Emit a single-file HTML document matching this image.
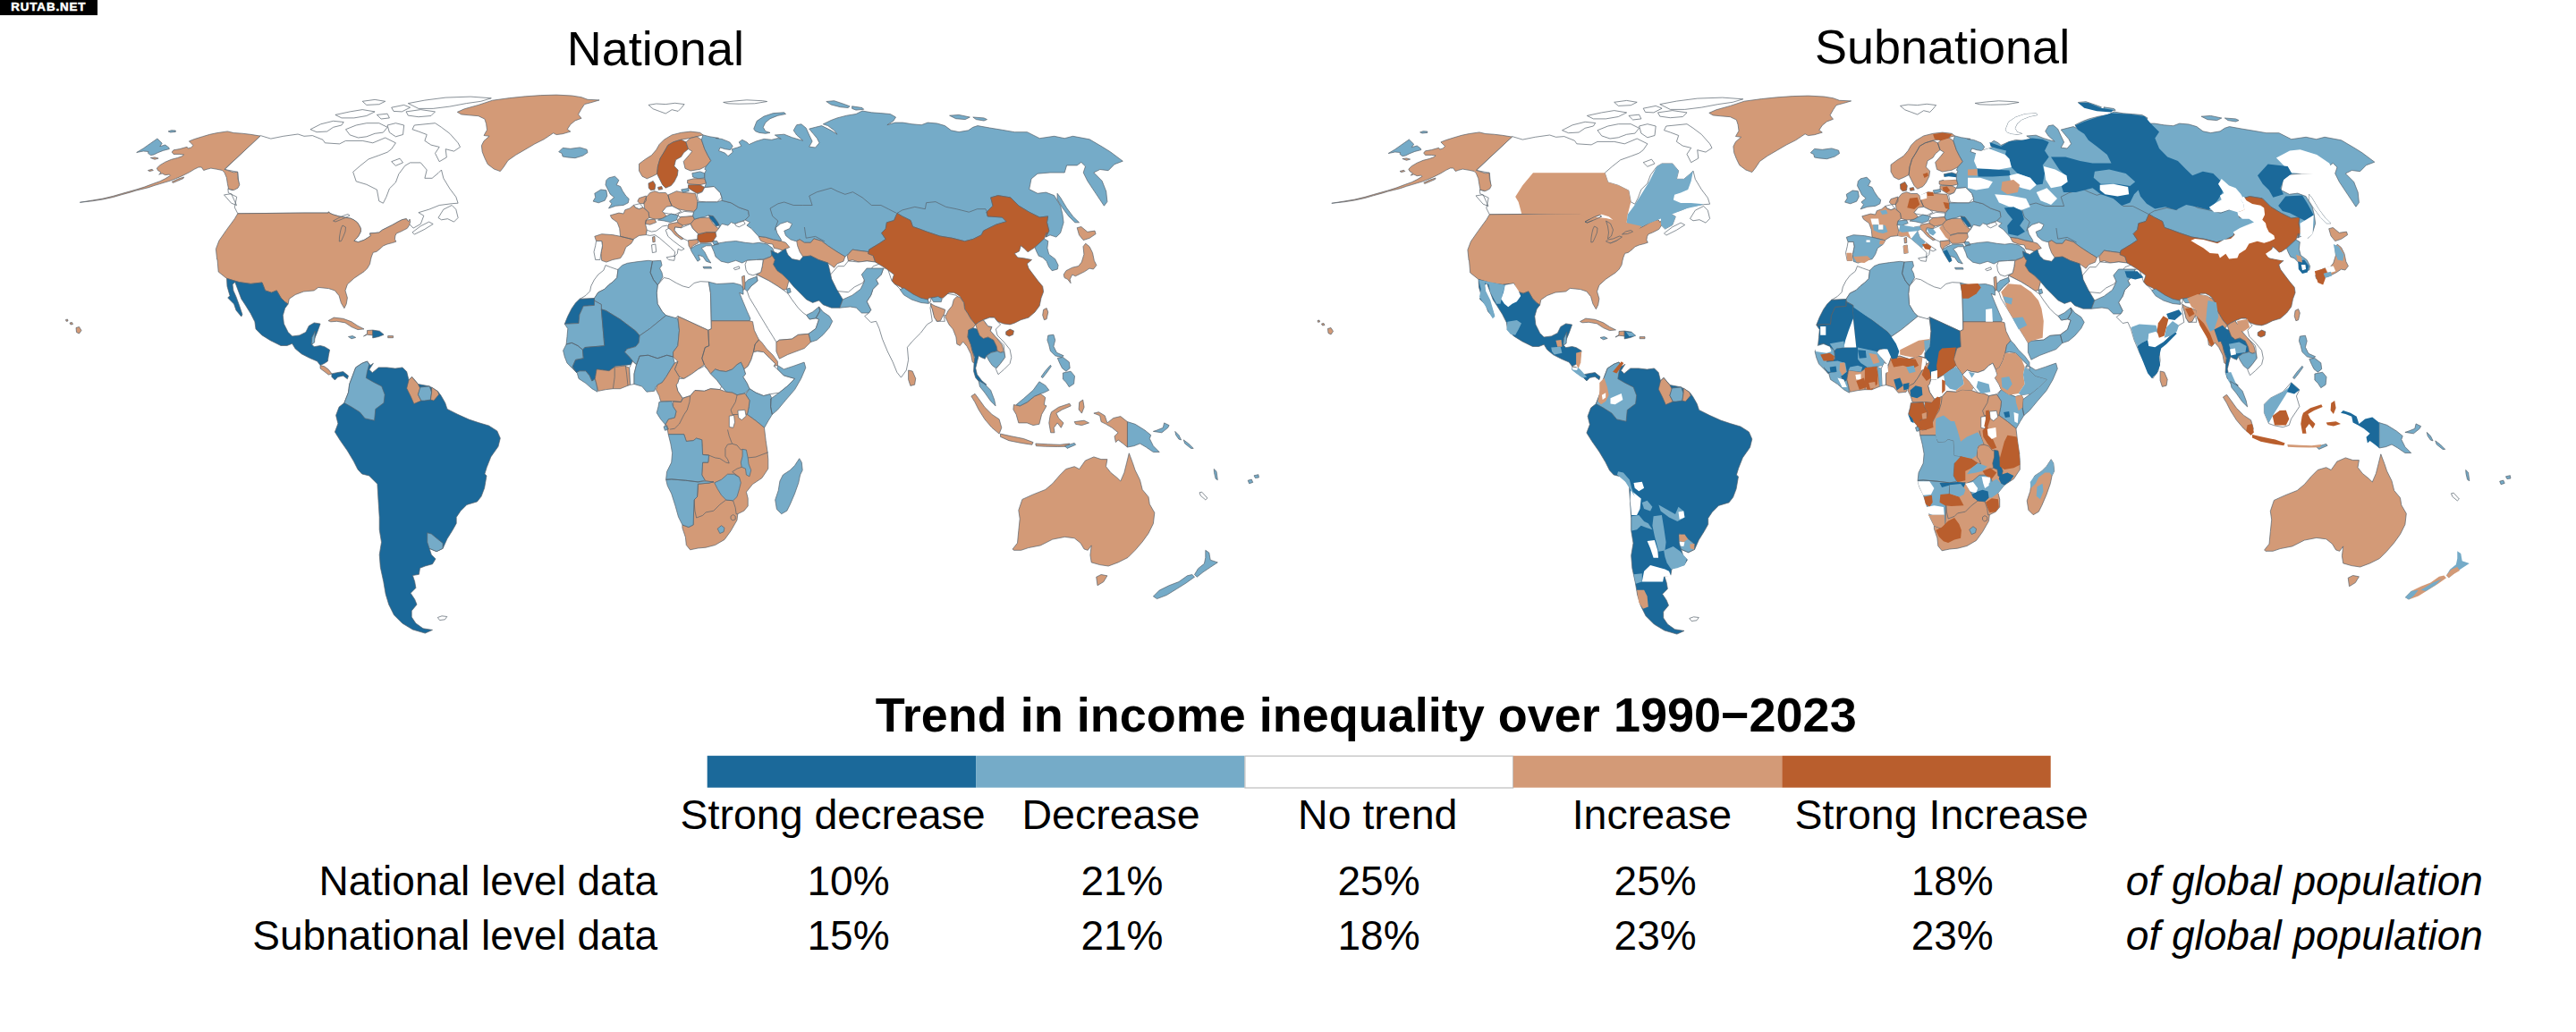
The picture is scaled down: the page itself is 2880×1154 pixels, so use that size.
<!DOCTYPE html>
<html><head><meta charset="utf-8"><title>Trend in income inequality over 1990-2023</title>
<style>
html,body{margin:0;padding:0;background:#fff;}
body{width:2880px;height:1154px;overflow:hidden;position:relative;font-family:"Liberation Sans",Arial,sans-serif;color:#000;}
.tag{position:absolute;left:0;top:0;width:109px;height:17px;background:#000;color:#fff;font-weight:bold;font-size:13.4px;line-height:16.3px;letter-spacing:0.85px;text-indent:12.3px;white-space:nowrap;-webkit-text-stroke:0.5px #fff;}
svg{position:absolute;left:0;top:0;}
.t{position:absolute;white-space:nowrap;line-height:1;}
.h{font-size:54px;}
.b{font-size:54px;font-weight:bold;}
.l{font-size:46px;}
.g{font-size:46.5px;}
.i{font-style:italic;}
</style></head><body>
<svg width="2880" height="1154" viewBox="0 0 2880 1154">
<g stroke="#56616b" stroke-width="0.7" stroke-linejoin="round">
<path fill="#75abc8" d="M152.7 170.5L160.2 166.0L168.4 160.2L175.9 155.0L181.2 160.2L178.8 163.7L184.7 162.0L188.7 164.9L189.3 166.6L182.3 168.4L176.5 170.7L171.9 173.0L168.4 173.6L165.5 171.3L166.0 169.5L160.2 169.0ZM188.1 146.9L191.6 145.7L196.3 146.0L196.3 147.4L190.5 148.0Z"/>
<path fill="#ffffff" d="M291.2 151.6L302.8 155.1L316.8 152.3L333.1 150.0L340.0 152.3L349.3 151.6L361.0 156.3L363.3 159.8L379.6 160.9L386.5 157.4L405.2 157.4L416.8 159.8L430.7 154.0L442.4 159.8L437.7 166.7L433.1 170.2L423.8 173.7L412.1 177.9L402.8 185.3L394.7 192.3L398.2 202.8L409.8 206.3L421.4 212.1L423.8 224.9L428.4 227.2L431.9 220.2L435.4 210.9L442.4 204.0L445.8 194.7L452.8 185.3L458.6 181.9L470.3 181.9L477.2 190.0L474.9 199.3L483.1 199.3L490.0 193.5L493.5 190.0L495.8 199.3L502.8 210.9L509.8 220.2L512.1 227.2L505.2 227.7L491.2 229.5L479.6 234.2L467.9 237.7L473.8 241.2L470.3 250.5L462.1 255.1L457.5 250.5L454.4 244.7L449.8 245.6L445.1 247.9L438.6 251.6L433.0 254.4L427.4 257.2L423.7 260.0L419.0 260.5L413.5 260.9L414.4 263.7L411.6 265.6L407.0 268.4L400.5 270.7L395.8 269.3L399.5 265.6L401.4 262.8L403.3 259.0L403.3 255.3L401.4 251.6L399.5 248.8L395.8 246.0L392.0 244.2L386.5 243.3L379.0 241.9L372.6 240.0L368.5 238.3L367.5 236.8L367.0 238.1L340.0 238.1L265.8 238.8L262.3 231.9L264.7 220.2L255.3 215.6L254.9 210.9L260.0 212.8L267.0 206.3L265.8 192.3L251.2 189.5ZM347.0 144.7L358.6 138.8L372.6 135.3L384.2 136.5L381.9 140.0L372.6 142.3L365.6 147.0L354.0 147.7ZM386.5 144.7L398.2 140.0L409.8 137.7L423.8 137.7L433.1 142.3L428.4 148.1L419.1 149.3L409.8 152.8L400.5 154.0L391.2 150.9ZM374.9 128.4L391.2 124.9L405.2 122.6L419.1 124.9L409.8 129.5L395.8 131.9L381.9 131.9ZM433.1 140.0L442.4 137.7L451.7 140.0L450.5 150.5L442.4 152.8L435.4 148.1ZM454.0 124.9L470.3 122.6L486.5 124.9L481.9 129.5L467.9 130.7L456.3 129.1ZM456.3 115.6L474.9 112.1L498.2 109.1L526.1 108.1L549.3 109.8L537.7 113.3L521.4 115.6L502.8 119.1L484.2 121.4L467.9 121.4ZM437.7 120.2L451.7 117.4L458.6 120.2L449.3 124.9L440.0 124.4ZM463.3 140.0L486.5 137.7L493.5 142.3L502.8 149.3L512.1 159.8L514.5 164.4L507.5 169.1L498.2 166.7L499.3 176.0L491.2 180.7L486.5 171.4L491.2 164.4L481.9 162.1L474.9 157.4L477.2 150.5L467.9 147.0L461.0 144.7ZM437.7 180.7L447.0 177.2L450.5 181.9L442.4 185.3ZM490.0 243.5L495.8 234.2L505.2 229.5L509.8 234.2L512.1 243.5L507.5 248.1L500.5 244.7L493.5 245.8ZM461.0 259.8L470.3 252.8L479.6 248.1L484.2 250.5L474.9 256.3L463.3 262.1ZM250.5 217.9L258.6 216.7L264.5 229.5L258.6 227.2ZM405.2 113.3L419.1 111.4L430.7 113.3L423.8 116.7L409.8 117.4ZM421.4 128.4L433.1 127.2L435.4 131.9L426.1 133.0Z"/>
<path fill="#d39a77" d="M291.0 152.1L250.9 189.3L254.4 190.5L261.4 192.8L265.5 192.2L266.0 199.8L267.8 206.7L266.0 210.2L261.4 212.6L255.6 211.4L254.4 205.6L253.3 198.6L250.9 192.8L248.6 190.5L242.8 189.3L235.8 188.1L231.2 189.3L227.7 190.5L225.3 187.0L221.9 187.0L217.2 189.3L211.4 192.8L205.6 195.7L202.1 197.4L196.3 199.8L190.5 202.1L184.7 203.8L178.8 205.6L173.0 207.3L166.0 209.7L159.1 211.4L152.1 213.1L146.3 214.9L135.8 217.8L126.5 220.5L114.9 223.0L103.3 224.8L89.3 226.3L103.3 224.0L114.9 222.1L126.5 219.3L135.8 216.6L152.1 212.0L161.4 209.1L170.7 205.6L178.8 202.7L184.7 199.8L190.5 196.3L189.3 195.1L184.7 195.7L181.2 194.0L177.7 195.1L180.0 192.8L176.5 190.5L175.3 188.1L178.8 184.7L184.7 181.2L191.6 178.3L198.6 176.5L203.3 174.8L205.6 173.0L200.9 172.4L194.0 172.4L192.2 170.1L194.0 167.8L200.9 166.6L209.1 164.3L210.2 166.0L213.7 164.9L216.0 162.6L213.7 160.2L211.4 157.9L217.2 155.6L226.5 152.7L234.7 150.3L242.8 148.6L254.4 146.9L261.4 148.6L270.7 149.2L280.0 150.3ZM168.4 176.5L173.0 175.9L177.1 177.1L173.0 178.3ZM165.5 190.5L170.1 189.3L171.3 190.5L167.2 191.6ZM192.2 203.3L198.6 200.3L205.6 198.0L205.0 199.5L198.6 202.3L193.4 204.4ZM265.8 238.8L340.0 238.1L367.0 238.1L367.5 236.8L368.5 238.3L372.6 240.0L379.0 241.9L386.5 243.3L392.0 244.2L395.8 246.0L399.5 248.8L401.4 251.6L403.3 255.3L403.3 259.0L401.4 262.8L399.5 265.6L395.8 269.3L400.5 270.7L407.0 268.4L411.6 265.6L414.4 263.7L413.5 260.9L419.0 260.5L423.7 260.0L427.4 257.2L433.0 254.4L438.6 251.6L445.1 247.9L449.8 245.6L454.4 244.7L456.5 247.5L458.1 245.1L458.6 247.9L457.7 251.6L455.3 255.3L451.6 257.2L447.9 259.1L443.3 260.9L441.9 263.7L441.4 267.4L442.8 270.2L438.6 271.6L433.0 273.0L428.4 274.9L425.6 277.7L420.9 281.4L417.2 282.3L415.3 287.0L414.4 290.7L413.5 295.3L410.7 300.0L407.0 303.7L401.4 307.4L395.8 311.2L388.4 317.9L386.0 324.9L388.4 333.0L387.2 340.0L384.9 344.7L381.4 338.8L379.1 330.7L374.4 324.9L367.4 322.6L355.8 321.4L351.2 324.9L339.5 326.0L330.2 329.5L323.3 334.2L322.1 340.0L318.6 337.7L314.0 333.0L309.3 324.9L303.5 327.2L296.5 324.9L293.0 316.0L280.2 317.4L267.4 315.6L253.5 311.4L244.2 304.0L243.0 290.0L242.6 290.0L241.4 278.4L244.9 269.1L253.0 257.4L262.3 244.7Z"/>
<path fill="none" d="M383.0 252.0L386.5 254.0L386.0 259.0L384.0 264.0L381.5 269.5L379.3 270.0L379.5 265.0L380.5 259.0L381.5 255.0ZM372.5 247.0L377.0 244.5L383.0 241.5L389.0 239.5L391.0 241.0L386.0 243.5L380.0 246.0L375.0 248.0Z"/>
<path fill="#d39a77" d="M85.0 366.5L88.5 365.5L91.0 369.5L88.5 373.0L85.5 371.5ZM78.0 361.0L80.5 360.5L81.5 362.5L79.0 363.0ZM73.5 357.5L75.5 357.0L76.0 359.0L74.0 359.3Z"/>
<path fill="#1b699a" d="M253.5 311.4L267.4 315.6L280.2 317.4L293.0 316.0L296.5 324.9L303.5 327.2L309.3 324.9L314.0 333.0L318.6 337.7L322.1 340.0L318.6 344.7L316.3 352.8L317.4 362.1L322.1 371.4L326.7 376.0L334.9 374.9L341.9 371.4L345.3 364.4L351.2 360.9L358.1 362.1L354.7 371.4L352.3 377.2L348.8 385.3L351.2 387.7L358.1 386.5L362.8 387.7L368.6 391.2L367.4 397.0L366.3 404.0L362.8 406.3L358.1 408.6L354.7 404.0L346.5 400.5L337.2 395.8L330.2 390.0L326.7 384.2L320.9 386.5L314.0 386.5L302.3 380.7L293.0 374.9L286.0 367.9L284.9 359.8L280.2 350.5L274.4 341.2L269.8 334.2L266.3 324.9L262.8 315.6L260.0 317.9L260.9 324.9L264.0 331.9L267.4 341.2L270.9 351.6L269.8 354.0L264.0 347.0L261.6 340.0L258.1 336.5L254.7 333.0L257.0 330.7L254.0 320.2Z"/>
<path fill="#75abc8" d="M348.8 377.2L352.3 370.2L351.6 383.0L348.1 385.3Z"/>
<path fill="#d39a77" d="M358.1 408.6L362.8 409.8L367.4 413.3L370.9 417.9L367.4 419.1L362.8 415.6L358.1 412.1Z"/>
<path fill="#1b699a" d="M370.9 417.9L376.7 416.7L383.7 415.6L389.5 420.2L388.4 423.7L383.7 420.2L377.9 421.4L374.4 424.9L370.9 421.4Z"/>
<path fill="#d39a77" d="M367.0 358.6L373.3 355.1L383.7 356.3L393.0 359.8L400.0 364.4L407.0 367.9L400.0 368.6L393.0 365.6L386.0 360.9L376.7 359.3L369.8 359.8ZM410.5 369.5L416.7 369.1L416.7 374.9L410.5 374.2L406.5 376.0L410.5 373.3Z"/>
<path fill="#1b699a" d="M416.7 369.1L424.4 370.2L429.1 374.2L423.3 376.5L416.7 377.9Z"/>
<path fill="#75abc8" d="M389.5 376.5L394.2 375.6L397.7 377.4L393.0 378.8Z"/>
<path fill="#d39a77" d="M433.7 375.6L439.5 375.6L439.5 377.7L433.7 377.7Z"/>
<path fill="#1b699a" d="M410.5 404.0L414.0 408.6L417.4 406.3L412.8 413.3L416.3 416.7L423.3 410.9L432.6 410.9L441.9 412.1L450.0 410.9L454.7 415.6L457.0 424.9L460.5 421.4L467.4 429.5L480.2 431.9L489.5 437.7L493.0 442.3L497.7 450.5L500.0 457.4L511.6 463.3L524.4 469.1L534.9 472.6L546.5 476.0L555.8 481.9L559.3 490.0L557.0 499.3L548.8 510.9L544.2 522.6L541.9 530.0L544.0 531.9L541.6 545.8L538.1 555.1L533.5 560.9L521.9 564.4L514.9 571.4L510.2 578.4L510.2 585.3L505.6 593.5L499.8 602.8L495.1 613.3L488.1 616.7L480.0 613.3L482.3 620.2L487.0 624.9L483.5 630.7L475.3 633.0L469.5 635.3L468.4 642.3L461.4 643.5L463.7 650.5L464.9 657.4L459.1 663.3L463.7 670.2L466.0 676.0L460.2 683.0L460.2 690.0L464.9 697.0L473.0 702.8L483.5 704.4L475.3 708.1L461.4 704.0L449.8 697.0L440.5 687.7L434.7 676.0L431.2 664.4L428.8 650.5L425.3 634.2L424.2 620.2L426.5 606.3L424.2 592.3L424.2 578.4L423.0 559.8L421.9 541.2L412.6 531.9L404.7 530.0L400.0 524.9L395.3 515.6L388.4 504.0L380.2 492.3L374.4 483.0L377.9 473.7L375.6 464.4L379.1 455.1L384.9 450.5L389.5 438.8L390.7 429.5L394.2 420.2L397.7 410.9L404.7 406.3Z"/>
<path fill="#75abc8" d="M410.5 404.0L404.7 406.3L397.7 410.9L394.2 420.2L390.7 429.5L389.5 438.8L384.9 450.5L393.0 455.1L402.3 460.9L408.1 467.9L418.6 470.2L419.8 457.4L429.1 450.5L430.2 441.2L426.7 431.9L417.4 427.2L409.3 422.6L410.5 415.6L412.8 407.4Z"/>
<path fill="#d39a77" d="M457.0 424.9L460.5 421.4L467.4 429.5L469.8 434.2L467.4 441.2L470.9 448.1L462.8 451.6L459.3 443.5L454.7 434.2Z"/>
<path fill="#75abc8" d="M469.8 433.0L480.2 431.9L482.6 438.8L481.4 447.0L474.4 448.1L470.9 448.1L467.4 441.2Z"/>
<path fill="#d39a77" d="M482.6 433.0L489.5 437.7L490.7 441.2L484.9 448.1L481.4 447.0L482.6 438.8Z"/>
<path fill="#75abc8" d="M477.7 595.8L482.3 597.0L489.3 602.8L495.1 607.4L495.1 613.3L488.1 616.7L480.0 613.3L477.7 606.3Z"/>
<path fill="#ffffff" d="M489.3 690.5L494.0 688.8L499.8 689.5L497.4 692.8L491.6 693.5Z"/>
<path fill="#d39a77" d="M511.3 125.3L519.2 121.8L534.9 117.4L550.6 112.2L569.8 109.6L587.2 107.8L604.7 106.6L622.1 106.1L639.5 107.0L650.0 108.7L657.0 111.3L670.1 111.9L662.2 114.3L653.5 116.6L650.0 121.8L646.5 127.9L650.0 132.3L643.0 134.9L637.8 139.2L634.3 144.5L637.8 147.1L629.1 149.7L622.1 150.6L618.6 148.8L608.1 155.8L597.7 161.0L587.2 167.2L576.7 173.3L568.0 179.4L562.8 187.2L559.3 191.6L552.3 189.0L545.3 183.7L541.9 176.7L539.2 169.8L538.4 162.8L541.0 157.6L547.1 152.3L541.0 151.5L544.5 145.3L543.6 138.4L541.9 133.1L534.9 129.7L524.4 128.8L515.7 127.9Z"/>
<path fill="#75abc8" d="M624.7 169.8L629.1 165.4L637.8 166.3L648.3 164.9L656.1 167.2L657.0 170.6L651.7 174.1L643.0 176.7L634.3 175.9L629.1 175.0L628.2 171.5ZM680.5 198.9L687.5 197.2L691.9 201.5L689.2 206.7L693.6 208.5L696.2 213.7L699.7 219.0L703.2 222.4L702.3 226.8L697.1 229.4L688.4 230.3L680.5 232.9L684.0 227.7L681.4 225.1L686.6 220.7L682.3 217.2L679.7 212.0L677.0 206.7L677.9 201.5ZM664.8 216.3L671.8 212.0L677.9 212.8L678.8 219.0L676.2 224.2L669.2 226.8L663.1 225.1L665.7 220.7Z"/>
<path fill="#ffffff" d="M725.0 117.4L733.7 116.0L744.2 116.6L754.7 115.3L765.1 116.6L761.6 120.9L758.1 124.4L751.2 122.7L744.2 127.0L737.2 124.4L730.2 121.8Z"/>
<path fill="#d39a77" d="M714.5 183.2L721.5 178.0L728.5 173.6L733.7 167.5L737.2 161.4L742.4 156.2L751.2 150.9L761.6 148.3L772.1 147.1L782.6 148.3L786.0 150.9L779.1 152.7L772.1 154.4L761.6 156.2L752.9 158.8L746.8 162.3L742.4 170.1L738.1 177.1L735.5 185.8L734.6 194.5L729.4 197.2L723.3 199.8L718.0 197.2L714.5 191.0Z"/>
<path fill="#b95e2d" d="M746.8 162.3L752.9 158.8L761.6 156.2L766.9 158.8L769.5 166.6L764.2 171.0L761.6 175.3L755.5 178.8L753.8 185.8L758.1 190.2L757.3 196.3L753.8 203.3L750.3 207.6L744.2 210.2L740.7 206.7L737.2 199.8L734.6 194.5L735.5 185.8L738.1 177.1L742.4 170.1Z"/>
<path fill="#d39a77" d="M772.1 154.4L779.1 152.7L784.3 156.2L787.8 166.6L791.3 173.6L794.8 179.7L789.5 185.8L782.6 189.3L772.1 191.0L766.0 188.4L764.2 180.6L770.3 173.6L773.8 169.2L769.5 166.6L766.9 158.8Z"/>
<path fill="#b95e2d" d="M725.0 205.0L730.2 202.4L732.8 206.7L732.0 212.0L727.6 212.8L725.3 210.2ZM735.5 209.4L739.8 208.5L740.7 211.6L736.3 212.3Z"/>
<path fill="#75abc8" d="M773.8 193.7L782.6 191.9L787.8 193.7L787.8 198.9L780.8 199.8L774.7 198.0Z"/>
<path fill="#d39a77" d="M768.6 201.5L775.6 199.8L787.8 199.8L789.5 205.0L782.6 206.7L772.1 205.9L768.6 205.0Z"/>
<path fill="#b95e2d" d="M769.5 206.7L782.6 206.7L787.8 209.4L785.2 214.6L779.1 216.3L772.1 212.0L769.5 210.2Z"/>
<path fill="#ffffff" d="M787.8 209.4L798.3 208.5L805.2 215.5L807.0 220.7L801.7 225.9L789.5 225.9L780.8 225.1L779.1 217.2L785.2 214.6Z"/>
<path fill="#d39a77" d="M746.8 218.1L756.4 213.7L765.1 215.5L777.3 216.3L779.9 225.9L779.1 232.9L775.6 236.4L766.9 235.5L758.1 233.8L751.2 230.3L748.5 224.2ZM726.7 215.5L732.0 213.7L737.2 215.5L744.2 215.5L746.8 218.1L748.5 224.2L751.2 230.3L744.2 232.9L740.7 236.4L745.1 241.6L740.7 244.2L732.0 245.1L725.9 243.4L725.0 237.3L720.6 232.9L719.8 226.8L722.4 220.7ZM714.5 221.6L722.4 219.0L722.4 224.2L719.8 227.7L715.4 227.7L712.8 225.1Z"/>
<path fill="#ffffff" d="M708.4 229.4L715.4 227.7L718.9 232.0L714.5 233.8L710.2 232.0ZM740.7 236.4L745.1 231.2L751.2 230.3L758.1 233.8L761.6 236.4L754.7 239.9L747.7 239.0L742.4 238.1ZM758.1 239.0L765.1 236.4L775.6 237.3L774.7 241.6L766.9 242.5L759.0 242.5Z"/>
<path fill="#75abc8" d="M740.7 244.2L745.1 241.6L750.3 239.0L758.1 240.8L756.4 246.0L749.4 248.6L742.4 246.9L735.5 246.0Z"/>
<path fill="#d39a77" d="M757.3 246.0L761.6 242.5L774.7 241.6L776.5 245.1L772.1 250.3L763.4 252.1L758.1 250.3ZM722.4 246.0L732.0 245.1L733.7 248.6L726.7 251.2L721.5 250.3ZM682.3 240.8L691.9 238.1L697.1 239.0L698.8 234.7L704.1 232.9L708.4 229.4L710.2 232.0L714.5 233.8L718.9 232.0L725.0 237.3L725.9 243.4L722.4 246.0L721.5 250.3L723.3 257.3L722.4 262.6L714.5 263.4L707.6 267.8L700.6 266.0L693.6 264.3L692.7 255.6L690.1 248.6L684.0 244.2ZM729.4 265.2L732.0 264.3L732.3 270.4L729.9 270.9ZM664.8 264.3L672.7 261.7L684.9 262.6L693.6 264.3L700.6 266.0L708.4 267.8L705.8 272.2L699.7 276.5L697.1 283.5L693.6 288.7L684.9 290.5L677.9 293.1L672.7 291.3L671.8 283.5L673.5 274.8L672.7 269.5L666.6 269.5Z"/>
<path fill="#ffffff" d="M666.6 269.5L672.7 269.5L673.5 274.8L671.8 283.5L670.9 290.5L665.7 290.5L664.0 281.7L665.7 274.8ZM723.3 257.3L728.5 259.1L733.7 258.2L740.7 253.0L745.9 252.1L748.5 254.7L744.2 257.3L746.8 264.3L752.9 269.5L759.9 274.8L765.1 278.3L761.6 280.0L758.1 278.3L757.3 283.5L753.8 287.0L754.7 281.7L749.4 276.5L743.3 271.3L737.2 266.0L732.0 262.6L726.7 263.4L722.4 262.6ZM745.1 287.8L754.7 286.1L753.8 291.3L747.7 290.5ZM728.5 273.9L732.8 273.0L733.7 281.7L729.4 282.6ZM754.7 253.8L761.6 254.7L772.1 250.3L774.7 255.6L780.8 261.7L779.9 267.8L772.1 268.7L769.5 269.5L764.2 266.9L758.1 262.6L753.8 257.3Z"/>
<path fill="#d39a77" d="M747.7 250.3L757.3 248.6L763.4 252.1L761.6 254.7L754.7 253.8L753.8 257.3L758.1 262.6L764.2 266.9L761.6 267.8L754.7 262.6L750.3 257.3L746.8 254.7ZM776.5 245.1L782.6 243.4L793.0 243.4L797.4 250.3L800.9 253.8L803.5 255.6L800.0 259.9L789.5 259.9L780.8 261.7L774.7 255.6L772.1 250.3Z"/>
<path fill="#1b699a" d="M792.2 240.8L797.4 241.6L802.6 248.6L804.4 252.1L800.9 253.0L797.4 248.6L793.9 244.2Z"/>
<path fill="#b95e2d" d="M779.9 262.6L789.5 259.9L800.0 259.9L800.9 264.3L798.3 267.8L797.4 270.4L789.5 271.3L782.6 271.3L779.9 267.8Z"/>
<path fill="#75abc8" d="M772.1 278.3L777.3 274.8L784.3 272.2L794.8 272.2L796.5 274.8L789.5 274.8L784.3 277.4L787.8 281.7L791.3 288.7L794.8 294.0L789.5 292.2L786.0 287.0L780.8 285.2L782.6 290.5L779.9 292.2L775.6 285.2L773.0 280.9ZM786.0 298.3L794.8 298.3L795.6 300.1L786.9 300.1Z"/>
<path fill="#d39a77" d="M769.5 268.7L779.9 267.8L780.8 271.6L774.7 274.8L772.1 278.3L770.0 274.8Z"/>
<path fill="#75abc8" d="M779.9 225.9L789.5 225.9L801.7 225.9L807.0 224.2L817.4 226.8L826.2 232.0L836.6 235.5L837.5 241.6L833.1 246.0L826.2 248.6L821.8 250.3L817.4 248.6L814.0 252.1L807.0 250.3L803.5 255.6L804.4 252.1L802.6 248.6L797.4 241.6L792.2 240.8L787.8 242.5L782.6 243.4L776.5 245.1L774.7 241.6L775.6 237.3L779.1 232.9Z"/>
<path fill="#ffffff" d="M821.8 250.3L826.2 248.6L831.4 247.2L833.1 250.3L826.2 253.8L822.7 252.4Z"/>
<path fill="#75abc8" d="M795.6 275.6L801.7 272.2L812.2 270.4L822.7 269.5L833.1 271.3L841.9 272.2L848.8 271.3L857.6 273.0L863.7 277.4L865.4 281.7L861.9 287.0L854.1 289.6L845.3 290.5L834.9 291.3L829.7 294.0L822.7 291.3L814.0 294.0L806.1 292.2L800.0 287.0L798.3 281.7ZM796.5 269.5L801.7 269.5L803.5 273.0L798.3 273.9Z"/>
<path fill="#ffffff" d="M820.1 300.1L826.2 297.8L827.0 300.1L821.8 301.8Z"/>
<path fill="#d39a77" d="M848.0 264.3L855.8 265.2L864.5 267.8L873.3 269.5L878.5 271.3L882.8 276.5L878.5 278.3L875.0 280.0L869.8 278.3L865.4 277.4L863.7 273.0L857.6 272.2L850.6 269.5Z"/>
<path fill="#75abc8" d="M786.0 150.9L784.3 156.2L787.8 166.6L791.3 173.6L794.8 179.7L789.5 185.8L787.8 189.3L789.5 190.2L787.8 193.7L787.8 198.9L789.5 205.0L787.8 209.4L798.3 208.5L805.2 215.5L807.0 220.7L807.0 224.2L817.4 226.8L826.2 232.0L836.6 235.5L837.5 241.6L833.1 246.0L838.4 248.6L834.9 252.1L840.1 255.6L848.0 264.3L855.8 265.2L864.5 267.8L873.3 269.5L873.3 267.8L868.9 260.8L867.2 254.7L872.4 250.3L880.2 247.7L885.5 250.3L882.8 255.6L876.7 258.2L878.5 263.4L883.7 267.8L889.0 269.5L890.7 269.5L894.2 267.8L899.4 271.3L906.4 271.3L909.9 266.9L918.6 269.5L925.6 274.8L936.0 281.7L944.8 287.0L944.9 287.2L948.4 283.7L953.0 279.1L960.0 280.2L969.3 281.4L976.3 283.7L970.5 283.7L971.6 279.1L983.3 272.1L990.2 267.4L985.6 260.5L990.2 255.8L991.4 248.8L999.5 246.5L1003.0 238.4L1008.8 241.9L1018.1 246.5L1020.5 253.5L1027.4 255.8L1036.7 259.3L1050.7 264.0L1064.7 266.3L1078.6 269.8L1087.9 267.4L1097.2 262.8L1099.5 258.1L1113.5 251.2L1125.1 247.7L1120.5 243.0L1104.2 241.9L1103.0 237.2L1110.0 230.2L1107.7 220.9L1115.8 218.6L1129.8 220.9L1139.1 230.2L1150.7 237.2L1162.3 243.0L1171.6 241.9L1170.5 248.8L1172.8 258.1L1169.3 265.1L1174.0 262.8L1180.9 265.1L1185.6 260.5L1189.1 248.8L1187.9 239.5L1185.6 230.2L1178.6 218.6L1169.3 215.1L1160.0 216.3L1150.7 211.6L1153.0 200.0L1160.0 194.2L1174.0 193.0L1190.2 193.0L1192.6 184.9L1204.2 184.9L1208.8 181.4L1213.5 186.0L1211.2 193.0L1215.8 202.3L1225.1 216.3L1234.4 230.2L1237.9 225.6L1236.7 214.0L1232.1 202.3L1222.8 193.0L1229.8 189.5L1239.1 190.7L1246.0 183.7L1255.3 180.2L1241.4 169.8L1232.1 164.0L1218.1 155.8L1199.5 152.3L1190.2 154.7L1178.6 152.3L1162.3 154.7L1148.4 147.7L1134.4 147.7L1120.5 145.3L1106.5 143.0L1093.0 140.6L1087.8 142.3L1082.6 145.8L1072.1 147.6L1063.4 145.8L1056.4 140.6L1047.7 138.0L1037.2 137.1L1030.2 139.7L1019.8 138.8L1009.3 137.1L1000.6 137.1L991.9 139.7L998.8 135.3L1001.5 131.0L995.3 127.5L984.9 126.6L974.4 125.8L964.0 124.0L957.0 127.5L946.5 129.2L936.0 131.9L929.1 134.5L920.3 138.8L925.6 140.6L932.6 145.8L936.0 150.2L929.1 145.8L922.1 142.3L918.6 140.6L911.6 142.3L904.7 144.1L909.0 149.3L913.4 154.5L916.0 159.8L911.6 165.0L904.7 164.1L908.1 158.0L904.7 151.0L901.2 143.2L895.9 138.8L890.7 139.7L887.2 145.8L890.7 151.0L897.7 157.2L894.2 156.3L885.5 153.7L876.7 150.2L866.3 151.0L873.3 155.4L869.8 154.5L862.8 156.3L854.1 155.4L845.3 158.0L837.5 161.5L834.9 158.9L829.7 156.3L826.2 158.9L828.8 163.3L824.4 165.0L818.3 166.7L819.2 170.2L814.0 174.6L810.5 171.1L803.5 168.5L805.2 165.0L810.5 166.7L816.6 167.6L819.2 163.3L815.7 158.9L807.0 155.4L800.0 154.5L803.5 154.4L793.0 152.7ZM842.7 144.1L846.2 135.3L854.1 130.1L864.5 126.6L876.7 125.8L878.5 127.5L869.8 129.2L861.0 132.7L855.8 137.1L853.2 142.3L855.8 146.7L861.0 148.4L855.8 149.3L848.8 148.4L844.5 146.7ZM923.8 113.5L932.6 112.7L943.0 116.2L950.0 118.8L948.3 120.5L939.5 119.7L929.1 117.0ZM952.6 118.8L964.0 120.5L965.7 122.3L957.0 123.1L952.6 121.4ZM1061.6 129.2L1072.1 128.4L1084.3 131.0L1079.1 133.6L1068.6 132.7ZM1087.8 131.0L1100.0 131.9L1103.5 133.6L1100.0 135.0L1091.3 133.6Z"/>
<path fill="#ffffff" d="M808.7 114.4L820.9 113.0L834.9 111.8L852.3 112.7L857.6 113.5L843.6 115.8L826.2 116.2L814.0 115.8Z"/>
<path fill="#75abc8" d="M1182.1 216.3L1185.6 220.9L1192.6 232.6L1199.5 241.9L1206.5 248.8L1201.9 248.8L1194.9 241.9L1187.9 232.6L1182.1 223.3ZM761.6 212.0L769.5 210.6L770.3 213.7L763.4 215.1Z"/>
<path fill="#d39a77" d="M890.7 269.5L894.2 267.8L899.4 271.3L906.4 271.3L909.9 266.9L918.6 269.5L925.6 274.8L936.0 281.7L944.8 287.0L943.0 292.2L936.0 294.8L932.6 299.2L925.6 294.0L915.1 290.5L906.4 286.1L897.7 287.0L894.2 281.7L891.6 274.8ZM947.2 286.0L953.0 279.1L960.0 280.2L969.3 281.4L976.3 283.7L976.3 286.0L978.6 293.0L969.3 291.9L960.0 293.0L953.0 290.7L948.4 291.9Z"/>
<path fill="#ffffff" d="M936.7 297.7L943.7 297.7L948.4 291.9L960.0 293.0L969.3 291.9L978.6 293.0L985.6 294.2L976.3 297.7L969.3 307.0L964.7 316.3L955.3 320.9L948.4 326.7L936.7 325.6L929.8 318.6L928.6 307.0Z"/>
<path fill="#1b699a" d="M861.9 280.0L865.4 281.7L869.8 283.5L875.0 280.0L878.5 278.3L879.4 281.7L881.1 285.2L885.5 289.6L894.2 291.3L897.7 287.0L906.4 286.1L915.1 290.5L925.6 294.0L927.3 300.9L929.5 311.6L935.3 323.3L942.3 334.9L938.8 344.2L929.5 344.2L920.2 340.7L915.6 336.0L908.6 338.4L901.6 334.9L894.7 327.9L887.7 320.9L881.9 314.0L874.9 307.0L868.9 302.7L864.5 295.7L866.3 290.5L862.8 285.2Z"/>
<path fill="#d39a77" d="M853.2 290.5L861.9 287.0L862.8 285.2L866.3 290.5L864.5 295.7L868.9 302.7L874.9 307.0L881.9 314.0L879.5 323.3L876.0 324.4L869.1 319.8L859.8 314.0L850.5 309.3L845.8 307.0L850.6 304.4L852.3 297.4Z"/>
<path fill="#ffffff" d="M834.9 291.3L845.3 290.5L853.2 290.5L852.3 297.4L850.6 304.4L841.9 307.9L836.6 306.2L834.0 301.8L833.1 295.7ZM835.3 325.6L840.0 319.8L847.0 314.0L845.8 307.0L859.8 314.0L869.1 319.8L876.0 324.4L880.7 327.9L885.3 334.9L892.3 344.2L898.1 350.0L901.6 352.3L905.1 357.0L912.1 355.8L915.6 357.0L912.1 367.4L904.0 373.3L892.3 374.4L885.3 379.1L871.4 380.2L867.9 382.6L864.4 376.7L858.6 367.4L851.6 355.8L844.7 344.2L837.7 332.6Z"/>
<path fill="#75abc8" d="M879.5 323.3L883.0 322.1L884.2 326.7L880.7 327.9ZM831.9 317.4L836.5 312.8L845.8 309.3L847.0 314.0L840.0 319.8L835.3 325.6L832.6 323.3Z"/>
<path fill="#d39a77" d="M829.5 309.3L832.3 308.1L833.0 317.4L832.6 323.3L830.7 324.4L830.0 316.3Z"/>
<path fill="#75abc8" d="M901.6 352.3L908.6 348.8L915.6 343.0L916.7 347.7L912.1 355.8L905.1 357.0ZM915.6 343.0L920.2 348.8L927.2 353.5L930.7 359.3L927.2 366.3L920.2 374.4L913.3 380.2L906.3 382.6L904.0 373.3L912.1 367.4L915.6 357.0L912.1 355.8L916.7 347.7Z"/>
<path fill="#d39a77" d="M867.9 382.6L871.4 380.2L885.3 379.1L892.3 374.4L904.0 373.3L906.3 382.6L899.3 389.5L890.0 393.0L880.7 396.5L871.4 401.2L867.9 393.0Z"/>
<path fill="#ffffff" d="M971.4 350.0L973.7 346.5L969.1 337.2L973.7 330.2L976.0 323.3L981.9 317.4L979.5 312.8L985.3 307.0L987.7 300.0L992.3 300.0L997.0 314.0L1006.3 323.3L1017.9 331.4L1031.9 336.0L1040.0 338.4L1041.2 332.6L1052.8 332.6L1057.4 327.9L1069.1 330.2L1072.6 333.7L1066.7 344.2L1059.8 353.5L1055.1 352.3L1056.3 359.3L1052.8 359.3L1047.0 359.3L1043.5 350.0L1041.2 339.5L1040.0 344.2L1042.3 359.3L1036.5 362.8L1029.5 372.1L1020.2 381.4L1014.4 388.4L1015.6 402.3L1013.3 414.0L1007.4 422.1L1002.8 416.3L998.1 404.7L992.3 393.0L986.5 379.1L983.0 367.4L979.5 359.3L973.7 360.5L966.7 353.5Z"/>
<path fill="#75abc8" d="M938.8 344.2L942.3 334.9L952.8 330.2L962.1 323.3L966.7 314.0L963.3 307.0L969.1 300.0L987.7 300.0L985.3 307.0L979.5 312.8L981.9 317.4L976.0 323.3L973.7 330.2L969.1 337.2L973.7 346.5L971.4 350.0L963.3 350.0L957.4 344.2L950.5 343.0Z"/>
<path fill="#d39a77" d="M1015.6 414.0L1020.2 415.1L1023.7 423.3L1022.6 430.2L1017.9 431.4L1015.6 424.4Z"/>
<path fill="#b95e2d" d="M970.5 283.7L971.6 279.1L983.3 272.1L990.2 267.4L985.6 260.5L990.2 255.8L991.4 248.8L999.5 246.5L1003.0 238.4L1008.8 241.9L1018.1 246.5L1020.5 253.5L1027.4 255.8L1036.7 259.3L1050.7 264.0L1064.7 266.3L1078.6 269.8L1087.9 267.4L1097.2 262.8L1099.5 258.1L1113.5 251.2L1125.1 247.7L1120.5 243.0L1104.2 241.9L1103.0 237.2L1110.0 230.2L1107.7 220.9L1115.8 218.6L1129.8 220.9L1139.1 230.2L1150.7 237.2L1162.3 243.0L1171.6 241.9L1170.5 248.8L1172.8 258.1L1169.3 265.1L1170.1 260.0L1167.4 267.0L1157.0 276.6L1149.1 281.8L1144.8 277.4L1141.3 274.8L1139.5 280.9L1134.3 283.5L1137.8 287.9L1144.8 288.8L1153.5 290.5L1148.3 294.9L1150.0 300.1L1155.2 307.1L1160.5 314.1L1165.7 320.2L1166.6 326.3L1164.0 333.3L1162.2 342.0L1157.0 349.0L1150.0 355.1L1141.3 357.7L1134.3 361.2L1129.1 362.9L1122.1 362.0L1115.1 359.4L1111.6 355.1L1106.4 355.1L1099.4 357.7L1094.2 360.3L1090.7 362.9L1085.5 356.8L1082.0 350.7L1078.5 345.5L1077.6 338.5L1073.3 331.5L1069.8 328.9L1066.3 327.2L1061.0 327.2L1054.1 333.3L1043.6 332.4L1038.4 333.3L1036.6 336.7L1029.7 335.0L1020.9 329.8L1014.0 326.3L1007.0 321.0L1000.0 317.6L997.2 314.0L999.5 307.0L990.2 300.0L978.6 293.0L976.3 286.0Z"/>
<path fill="#75abc8" d="M1006.1 323.7L1010.5 321.9L1020.9 328.9L1029.7 333.3L1037.5 335.0L1038.4 339.4L1029.7 338.5L1019.2 335.0L1010.5 329.8ZM1041.0 333.3L1048.8 331.5L1053.2 334.1L1052.3 337.6L1043.6 337.6Z"/>
<path fill="#d39a77" d="M1040.1 339.4L1045.3 342.0L1052.3 344.6L1056.7 346.3L1055.8 350.7L1053.2 355.1L1051.5 358.5L1048.0 359.4L1044.5 355.1L1042.7 347.2Z"/>
<path fill="#b95e2d" d="M1124.7 370.8L1129.1 368.1L1133.4 369.9L1132.6 374.2L1128.2 376.0L1124.7 374.2Z"/>
<path fill="#d39a77" d="M1166.6 346.3L1170.1 344.6L1171.8 349.0L1170.1 356.8L1167.4 357.7L1165.7 352.4Z"/>
<path fill="#75abc8" d="M1157.0 276.6L1167.4 267.0L1171.8 269.6L1170.9 277.4L1172.7 284.4L1179.7 289.7L1183.1 296.6L1182.3 301.0L1176.2 302.7L1172.7 298.4L1170.1 292.3L1165.7 287.9L1161.3 286.2L1158.7 280.9Z"/>
<path fill="#d39a77" d="M1189.2 307.1L1191.9 302.7L1198.8 299.2L1205.8 297.5L1209.3 293.1L1211.9 284.4L1211.0 275.7L1213.7 272.2L1218.0 275.7L1221.5 282.7L1223.3 291.4L1225.9 296.6L1222.4 301.0L1218.0 300.1L1212.8 303.6L1207.6 306.2L1202.3 308.8L1198.8 307.1L1196.2 312.3L1197.1 316.7L1193.6 312.3L1190.1 310.6ZM1204.2 254.7L1208.8 253.5L1215.8 259.3L1224.0 258.1L1225.1 261.6L1218.1 266.3L1211.2 268.6L1206.5 262.8ZM1056.7 354.2L1060.2 347.2L1064.5 342.0L1066.3 335.0L1069.8 331.5L1073.3 332.4L1077.6 338.5L1078.5 345.5L1082.0 350.7L1085.5 356.8L1090.7 362.9L1088.1 366.4L1082.8 369.0L1082.0 376.9L1085.5 385.6L1087.2 392.6L1089.0 399.5L1089.8 406.5L1087.2 404.8L1085.5 396.0L1081.1 387.3L1076.7 382.1L1073.3 386.5L1069.8 384.7L1068.9 376.9L1065.4 368.1L1061.0 362.9Z"/>
<path fill="#1b699a" d="M1082.8 369.0L1088.1 366.7L1092.4 368.1L1095.1 375.1L1099.4 378.6L1104.7 376.9L1110.8 380.3L1114.2 387.3L1115.1 392.6L1108.1 394.3L1102.9 397.8L1101.2 401.3L1096.8 399.5L1094.2 397.8L1092.4 404.8L1090.7 411.7L1092.4 418.7L1097.7 425.7L1102.9 430.1L1099.4 432.7L1095.1 427.4L1090.7 422.2L1088.6 415.2L1089.0 406.5L1089.8 399.5L1087.2 392.6L1085.5 385.6L1082.0 376.9Z"/>
<path fill="#d39a77" d="M1090.7 362.9L1094.2 360.3L1099.4 357.7L1104.7 364.7L1109.0 365.5L1107.3 369.9L1113.4 376.9L1120.3 385.6L1122.1 392.6L1118.6 394.3L1115.1 392.6L1114.2 387.3L1110.8 380.3L1104.7 376.9L1099.4 378.6L1095.1 375.1L1092.4 368.1Z"/>
<path fill="#75abc8" d="M1102.9 397.8L1108.1 394.3L1115.1 392.6L1118.6 394.3L1123.0 393.4L1123.8 399.5L1118.6 406.5L1113.4 411.7L1109.0 408.3L1105.5 403.0Z"/>
<path fill="#ffffff" d="M1106.4 355.1L1111.6 355.1L1115.1 359.4L1118.6 362.9L1113.4 368.1L1115.1 375.1L1122.1 382.1L1129.1 390.8L1130.8 399.5L1129.1 406.5L1122.1 413.5L1116.0 418.7L1113.4 412.6L1118.6 406.5L1123.8 399.5L1123.0 393.4L1122.1 385.6L1113.4 376.9L1107.3 369.9L1109.0 365.5L1104.7 364.7L1099.4 357.7Z"/>
<path fill="#75abc8" d="M1171.8 375.1L1177.9 374.2L1179.7 380.3L1177.9 387.3L1181.4 394.3L1189.2 397.8L1186.6 399.5L1179.7 397.8L1174.4 392.6L1172.7 385.6L1170.9 380.3ZM1182.3 400.4L1188.4 399.5L1195.3 404.8L1196.2 411.7L1191.9 415.2L1187.5 411.7L1184.9 406.5ZM1188.4 417.0L1197.1 415.2L1201.5 420.5L1200.6 429.2L1195.3 432.7L1191.9 427.4L1188.4 424.0ZM1164.0 421.3L1168.3 415.2L1174.4 408.3L1175.3 409.7L1170.1 417.0L1165.7 422.6Z"/>
<path fill="none" d="M861.0 233.0L869.8 227.8L876.7 226.0L887.2 229.5L897.7 229.5L908.1 229.5L904.7 219.1L913.4 214.7L929.1 210.3L936.0 213.8L944.8 217.3L953.5 214.7L964.0 220.8L974.4 229.5L984.9 229.5L993.6 233.9L1002.3 238.3M861.0 233.0L863.7 241.7L869.8 247.0L867.2 254.0L866.3 257.4M1003.0 238.4L1008.8 234.9L1022.8 231.4L1034.4 233.7L1035.6 226.7L1046.0 225.6L1057.7 231.4L1069.3 233.7L1083.3 237.2L1092.6 233.7L1101.9 233.7L1104.2 238.4M899.4 254.0L901.2 266.2L911.6 264.4L922.1 270.0"/>
<path fill="#ffffff" d="M647.9 334.4L649.1 333.9L654.9 330.4L659.6 325.7L660.8 319.9L664.3 313.0L668.8 307.0L674.8 302.3L677.0 296.6L682.8 298.8L689.8 301.3L691.0 301.3L689.8 310.5L685.2 315.2L680.5 318.7L675.8 323.4L668.8 326.9L664.3 333.9ZM735.3 318.7L742.3 310.5L748.0 311.7L756.2 316.5L763.2 319.9L770.2 321.7L776.1 316.5L783.1 314.7L792.3 315.2L794.4 327.4L795.3 367.6L791.8 369.3L757.8 353.6L754.3 356.2L744.7 352.7L740.3 348.4L735.1 339.7L734.2 327.4Z"/>
<path fill="#75abc8" d="M664.5 333.5L668.8 326.9L675.8 323.4L680.5 318.7L685.2 315.2L689.8 310.5L691.0 301.3L695.7 296.6L701.5 294.3L713.1 292.6L724.8 291.3L729.5 291.9L727.1 304.8L730.6 312.8L735.3 318.7L734.2 327.4L735.1 339.7L740.3 348.4L744.7 352.7L726.4 367.6L715.1 375.4L710.7 370.2L693.3 357.1L677.6 347.5L672.3 345.8L672.3 340.5L664.5 336.2ZM729.5 291.9L738.8 291.3L740.0 296.6L737.6 300.1L740.0 304.8L741.0 309.5L737.6 315.2L735.3 318.7L730.6 312.8L727.1 304.8Z"/>
<path fill="#1b699a" d="M647.9 334.4L664.5 333.5L664.5 341.4L652.3 342.3L647.9 351.9L647.0 361.5L631.3 362.3L634.8 353.6L639.2 344.9L643.5 338.8Z"/>
<path fill="#75abc8" d="M631.3 362.3L647.0 361.5L647.9 351.9L652.3 342.3L664.5 341.4L664.5 336.2L672.3 340.5L672.3 345.8L675.8 386.7L654.0 388.5L651.4 391.1L646.2 386.7L639.2 383.3L633.1 385.0L634.0 376.3L634.8 367.6ZM633.1 385.0L639.2 383.3L646.2 386.7L651.4 391.1L652.3 400.7L643.5 402.4L640.1 410.3L644.4 416.4L647.9 414.7L654.9 414.7L659.2 419.9L661.9 426.0L665.3 423.4L667.1 430.3L668.0 438.2L661.9 434.7L654.9 428.6L647.0 423.4L645.3 417.3L639.2 411.2L634.0 405.9L631.3 399.0L629.6 392.0Z"/>
<path fill="#1b699a" d="M672.3 345.8L677.6 347.5L693.3 357.1L710.7 370.2L715.1 375.4L714.2 383.3L710.7 387.6L701.1 390.2L698.5 393.7L703.7 399.0L707.2 403.3L705.5 407.7L698.5 408.5L688.0 409.4L681.0 414.7L667.1 412.9L665.3 423.4L661.9 426.0L659.2 419.9L654.9 414.7L647.9 414.7L644.4 416.4L640.1 410.3L643.5 402.4L652.3 400.7L651.4 391.1L654.0 388.5L675.8 386.7Z"/>
<path fill="#d39a77" d="M667.1 412.9L681.0 414.7L687.2 410.3L698.5 409.1L703.7 411.2L704.6 430.3L702.0 431.2L693.3 434.7L685.4 434.7L677.6 435.6L668.8 437.3L667.1 430.3L665.3 423.4Z"/>
<path fill="#ffffff" d="M703.7 411.2L707.2 404.2L711.6 407.7L709.0 418.1L709.0 429.5L704.6 430.3Z"/>
<path fill="#75abc8" d="M715.1 375.4L726.4 367.6L744.7 352.7L757.8 356.2L759.5 369.3L757.8 386.7L752.6 393.7L752.6 399.0L745.6 397.2L735.1 400.7L724.7 397.2L715.1 398.1L711.6 407.7L707.2 403.3L703.7 399.0L698.5 393.7L701.1 390.2L710.7 387.6L714.2 383.3ZM711.6 407.7L715.1 398.1L724.7 397.2L735.1 400.7L745.6 397.2L752.6 399.0L754.3 405.9L749.9 412.9L744.7 421.6L740.3 427.7L733.4 432.1L731.6 437.3L722.9 438.2L717.7 432.1L709.0 429.5L709.0 418.1ZM792.3 315.2L801.6 317.5L811.0 317.0L820.2 316.5L828.4 318.7L830.7 322.2L831.0 329.2L826.7 327.4L831.0 337.9L835.4 348.4L838.9 356.2L838.0 358.8L795.3 358.8L794.4 327.4Z"/>
<path fill="#d39a77" d="M757.8 353.6L791.8 369.3L792.7 386.7L788.3 388.5L784.8 400.7L787.4 407.7L780.5 412.9L773.5 418.1L764.8 423.4L759.5 421.6L754.3 412.9L757.8 404.2L752.6 399.0L752.6 393.7L757.8 386.7L759.5 369.3ZM795.3 358.8L838.0 358.8L841.5 359.7L843.3 369.3L846.7 376.3L848.5 379.8L844.1 385.0L842.4 393.7L839.8 402.4L836.3 409.4L831.9 412.9L828.4 405.1L824.1 407.7L818.8 412.9L811.9 415.5L804.9 414.7L799.7 412.9L794.4 418.1L790.9 412.9L787.4 407.7L784.8 400.7L788.3 388.5L792.7 386.7L791.8 369.3L795.3 367.6ZM844.1 385.0L848.5 379.8L852.0 383.3L857.2 390.2L864.2 397.2L869.4 404.2L869.4 408.5L865.1 409.4L866.8 406.8L860.7 400.7L853.7 393.7L846.7 392.8L842.4 393.7Z"/>
<path fill="#75abc8" d="M794.4 418.1L799.7 412.9L804.9 414.7L811.9 415.5L818.8 412.9L824.1 407.7L828.4 405.1L831.9 412.9L833.7 418.1L831.0 421.6L835.4 428.6L838.0 434.7L832.8 439.9L824.1 441.7L818.8 439.1L811.9 438.2L806.6 432.1L801.4 425.1Z"/>
<path fill="#ffffff" d="M836.3 409.4L839.8 402.4L842.4 393.7L846.7 392.8L853.7 393.7L860.7 400.7L866.8 406.8L865.1 409.4L869.4 412.9L876.4 419.9L888.6 423.4L879.9 432.1L871.2 439.1L860.7 440.8L853.7 442.6L845.0 439.1L838.0 434.7L835.4 428.6L831.0 421.6L833.7 418.1L831.9 412.9Z"/>
<path fill="#75abc8" d="M869.4 408.5L876.4 412.9L886.9 409.4L899.1 405.1L900.8 411.2L895.6 423.4L888.6 435.6L878.1 447.8L869.4 458.3L863.3 463.5L861.6 454.8L861.6 446.0L871.2 439.1L879.9 432.1L888.6 423.4L876.4 419.9L869.4 412.9ZM838.0 434.7L845.0 439.1L853.7 442.6L860.7 440.8L862.4 444.3L861.6 454.8L863.3 463.5L859.0 470.5L854.6 478.3L845.0 470.5L835.4 463.5L837.2 454.8L838.0 447.8L833.7 440.8Z"/>
<path fill="#ffffff" d="M764.8 423.4L773.5 418.1L780.5 412.9L787.4 409.4L790.9 412.9L794.4 418.1L801.4 425.1L806.6 432.1L804.9 435.6L794.4 434.7L787.4 437.3L777.0 436.5L771.7 442.6L763.0 445.2L757.8 437.3L756.0 430.3L759.5 423.4Z"/>
<path fill="#d39a77" d="M754.3 405.9L757.8 404.2L754.3 412.9L759.5 421.6L757.8 428.6L756.0 430.3L757.8 437.3L763.0 445.2L761.3 449.5L750.8 448.7L738.6 448.7L736.9 442.6L733.4 435.6L735.1 430.3L740.3 427.7L744.7 421.6L749.9 412.9ZM752.6 448.7L761.3 449.5L763.9 445.2L771.7 442.6L777.0 436.5L787.4 437.3L794.4 434.7L804.9 435.6L811.9 438.2L818.8 439.1L824.1 441.7L832.8 439.9L838.0 447.8L837.2 454.8L835.4 463.5L845.0 470.5L854.6 478.3L854.5 478.7L856.2 492.7L858.0 504.9L858.8 513.6L858.8 524.1L851.9 534.5L841.4 541.5L834.4 550.2L836.2 557.2L836.2 565.9L831.8 571.2L824.8 574.7L824.0 581.6L817.0 593.8L810.0 603.4L799.5 609.5L789.1 612.2L780.3 613.0L771.6 614.8L767.3 609.5L766.4 600.8L762.9 590.3L762.9 586.9L769.9 589.5L775.1 586.9L776.0 559.0L779.5 555.5L780.3 541.2L792.6 540.1L797.8 538.9L789.1 538.0L788.2 537.2L784.7 531.0L785.6 517.1L791.7 517.1L792.6 509.2L785.6 508.4L784.7 491.8L778.6 490.1L775.1 492.7L767.3 493.5L764.7 485.7L747.2 485.7L746.3 480.5L743.7 475.2L747.3 480.1L745.6 475.7L743.8 474.8L747.3 468.7L754.3 467.0L756.0 460.0L752.6 454.8Z"/>
<path fill="none" d="M785.6 508.4L792.6 509.2L799.5 511.9L804.8 512.7L811.7 517.1L815.2 518.0L813.5 513.6L810.9 510.1L810.9 501.4L813.5 497.0L818.7 496.2L824.0 497.9L828.3 503.1L830.1 502.3M826.6 533.7L818.7 527.6L824.0 524.1L829.2 522.3M836.2 511.9L844.9 511.0L858.8 505.8M780.3 541.2L779.5 555.5L776.0 559.0L776.9 571.2L778.6 579.0L785.6 576.4L789.1 572.9L797.8 571.2L804.8 564.2L811.7 559.0L819.6 559.8L822.2 567.7L823.1 574.7L824.8 574.7M817.0 577.3L819.6 575.5L822.2 577.3L822.2 580.8L819.1 582.0L817.0 580.2L817.0 577.3M813.5 480.5L815.2 487.4L817.8 494.4L818.7 496.2M824.1 441.7L822.3 449.5L817.1 458.3L818.8 463.5L824.9 463.5L828.4 460.9L835.4 463.5M771.7 442.6L770.9 449.5L768.3 458.3L764.8 463.5L759.5 474.0L754.3 479.2L749.1 480.1M687.2 410.3L687.2 421.6L685.4 434.7M699.4 409.1L700.6 418.1L702.0 431.2"/>
<path fill="#75abc8" d="M736.9 449.5L750.8 448.7L752.6 454.8L756.0 460.0L754.3 467.0L747.3 468.7L743.8 474.8L738.6 468.7L734.2 461.7L736.0 454.8ZM747.2 485.7L764.7 485.7L767.3 493.5L775.1 492.7L778.6 490.1L784.7 491.8L785.6 508.4L792.6 509.2L791.7 517.1L785.6 517.1L784.7 531.0L788.2 537.2L780.3 538.9L766.4 537.2L750.7 535.9L744.6 536.3L745.5 527.6L750.7 517.1L751.6 506.6L749.8 496.2ZM742.0 477.0L745.5 476.1L746.3 480.5L743.4 481.3ZM744.6 536.3L750.7 535.9L766.4 537.2L780.3 538.9L789.1 538.0L797.8 538.9L792.6 540.1L780.3 541.2L779.5 555.5L776.0 559.0L775.1 586.9L769.9 589.5L762.9 586.9L758.5 578.1L755.1 565.9L750.7 552.0L746.3 543.3ZM798.7 539.8L806.5 536.3L813.5 530.2L820.5 530.2L826.6 533.7L828.3 539.8L826.6 546.7L824.0 555.5L819.6 559.8L811.7 559.0L806.5 553.7L802.2 546.7ZM830.1 502.3L834.4 503.1L836.2 511.9L837.0 518.8L839.7 525.8L837.9 532.8L834.4 531.0L833.5 524.1L829.2 522.3L828.3 517.1L830.1 510.1ZM802.2 591.2L806.5 587.7L810.0 590.3L809.1 594.7L804.8 596.5Z"/>
<path fill="#ffffff" d="M815.3 465.2L820.6 464.4L821.5 472.2L819.7 478.3L815.3 477.4ZM824.9 459.1L832.8 458.3L834.2 465.2L829.3 469.6L825.5 467.0Z"/>
<path fill="#75abc8" d="M893.7 512.7L896.3 517.1L897.2 525.8L894.6 531.0L892.8 539.8L888.5 552.0L883.3 564.2L879.8 571.2L873.7 574.7L868.4 569.4L866.7 559.0L870.2 548.5L871.9 538.0L875.4 531.0L883.3 525.8L888.5 520.6Z"/>
<path fill="#d39a77" d="M1132.1 614.0L1137.5 607.2L1138.8 593.6L1140.2 580.1L1138.8 570.6L1142.9 558.4L1155.1 552.9L1168.7 547.5L1176.8 540.7L1185.0 531.2L1191.7 524.5L1201.2 521.7L1206.7 524.5L1213.4 515.0L1222.9 510.9L1231.1 513.6L1237.9 513.6L1236.5 521.7L1241.9 528.5L1248.7 534.0L1252.8 538.0L1256.9 528.5L1259.6 517.7L1262.3 506.8L1266.4 517.7L1269.1 525.8L1274.5 536.7L1277.2 547.5L1284.0 555.7L1285.3 563.8L1290.8 573.3L1289.4 585.5L1284.0 596.4L1277.2 605.9L1269.1 615.3L1260.9 623.5L1250.1 628.9L1239.2 633.0L1229.7 631.6L1220.2 628.9L1218.9 620.8L1220.2 609.9L1216.2 615.3L1212.1 614.0L1208.0 607.2L1201.2 601.8L1190.4 600.4L1176.8 603.1L1163.3 609.9L1149.7 612.6L1141.6 615.3L1133.4 615.3ZM1225.7 645.2L1231.1 642.5L1237.9 643.8L1233.8 650.6L1227.0 654.7Z"/>
<path fill="#75abc8" d="M1347.8 615.3L1351.8 618.1L1353.2 626.2L1361.3 628.9L1353.2 634.3L1345.0 639.8L1338.3 645.2L1335.5 642.5L1339.6 635.7L1346.4 630.3L1347.8 623.5ZM1332.8 642.5L1335.5 645.2L1326.0 652.0L1315.2 658.8L1304.3 665.5L1293.5 669.6L1289.4 666.9L1296.2 660.1L1307.1 654.7L1317.9 650.6L1327.4 643.8ZM1260.4 471.6L1269.1 474.3L1279.9 481.0L1286.7 486.5L1285.3 490.5L1289.4 498.7L1296.2 505.5L1289.4 505.5L1281.3 500.0L1274.5 496.0L1267.7 498.7L1260.4 500.0ZM1289.4 482.4L1298.9 483.8L1305.7 478.3L1307.1 475.6L1301.6 472.9L1300.3 478.3L1293.5 481.0Z"/>
<path fill="#d39a77" d="M1237.9 472.9L1244.7 467.5L1252.8 465.6L1260.4 471.6L1260.4 500.0L1255.5 496.0L1250.1 491.9L1247.4 494.6L1246.0 487.8L1250.1 483.8L1243.3 478.3L1236.5 474.3L1231.1 471.6L1229.7 464.8L1222.9 462.1L1228.4 460.7L1235.2 464.8ZM1090.0 440.3L1094.1 445.8L1100.9 455.3L1109.0 463.4L1117.1 468.8L1119.8 478.3L1117.1 485.1L1109.0 478.3L1100.9 468.8L1094.1 458.0L1090.0 449.8L1085.9 443.1ZM1118.5 485.1L1130.7 487.8L1144.3 490.5L1155.1 494.6L1153.8 497.3L1141.6 495.4L1128.0 492.7L1118.5 488.4ZM1157.8 496.0L1171.4 496.8L1185.0 497.3L1195.8 496.0L1194.5 499.2L1182.2 499.5L1168.7 499.2L1158.4 498.7Z"/>
<path fill="#75abc8" d="M1190.4 498.7L1201.2 495.4L1202.6 497.3L1193.1 501.4Z"/>
<path fill="#d39a77" d="M1133.4 452.6L1140.2 453.9L1148.3 449.8L1156.5 443.1L1163.3 440.3L1168.7 444.4L1167.3 452.6L1170.0 453.9L1164.6 463.4L1161.9 474.3L1155.1 475.6L1148.3 472.9L1138.8 472.9L1136.1 463.4L1132.9 458.0Z"/>
<path fill="#75abc8" d="M1136.1 452.6L1144.3 445.8L1155.1 436.3L1161.9 426.8L1168.7 430.9L1172.8 436.3L1167.3 439.0L1163.3 440.3L1156.5 443.1L1148.3 449.8L1140.2 453.9Z"/>
<path fill="#d39a77" d="M1175.5 460.7L1183.6 455.3L1195.8 451.2L1197.2 453.9L1187.7 458.0L1180.9 462.1L1183.6 467.5L1189.0 472.9L1186.3 478.3L1182.2 472.9L1178.2 478.3L1179.0 483.8L1174.7 483.8L1172.8 472.9L1174.1 464.8ZM1206.7 449.8L1210.7 447.1L1212.1 455.3L1209.4 462.1L1206.1 458.0ZM1201.2 471.6L1212.1 470.2L1217.5 472.9L1209.4 475.6L1202.6 474.3Z"/>
<path fill="#75abc8" d="M1094.1 425.4L1100.9 429.5L1107.6 436.3L1111.7 447.1L1113.1 453.9L1107.6 448.5L1100.9 439.0L1095.4 432.2ZM1313.8 482.4L1317.9 486.5L1320.6 491.9L1317.9 491.1L1314.7 486.5ZM1323.3 491.9L1328.8 496.0L1334.2 501.4L1331.5 501.4L1324.7 496.0ZM1395.2 537.2L1399.3 536.1L1400.7 539.4L1396.6 540.7ZM1402.0 531.8L1406.9 530.7L1407.4 534.0L1403.4 534.5ZM1357.2 524.5L1360.0 527.2L1361.3 536.7L1359.1 535.3L1357.5 528.5Z"/>
<path fill="#ffffff" d="M1341.0 550.8L1343.7 550.2L1349.9 557.0L1347.8 558.9L1342.3 554.3Z"/>
<path fill="#75abc8" d="M1552.2 171.5L1559.7 167.0L1567.9 161.2L1575.4 156.0L1580.7 161.2L1578.3 164.7L1584.2 163.0L1588.2 165.9L1588.8 167.6L1581.8 169.4L1576.0 171.7L1571.4 174.0L1567.9 174.6L1565.0 172.3L1565.5 170.5L1559.7 170.0ZM1587.6 147.9L1591.1 146.7L1595.8 147.0L1595.8 148.4L1590.0 149.0Z"/>
<path fill="#ffffff" d="M1690.7 152.6L1702.3 156.1L1716.3 153.3L1732.6 151.0L1739.5 153.3L1748.8 152.6L1760.5 157.3L1762.8 160.8L1779.1 161.9L1786.0 158.4L1804.7 158.4L1816.3 160.8L1830.2 155.0L1841.9 160.8L1837.2 167.7L1832.6 171.2L1823.3 174.7L1811.6 178.9L1802.3 186.3L1794.2 193.3L1797.7 203.8L1809.3 207.3L1820.9 213.1L1823.3 225.9L1827.9 228.2L1831.4 221.2L1834.9 211.9L1841.9 205.0L1845.3 195.7L1852.3 186.3L1858.1 182.9L1869.8 182.9L1876.7 191.0L1874.4 200.3L1882.6 200.3L1889.5 194.5L1893.0 191.0L1895.3 200.3L1902.3 211.9L1909.3 221.2L1911.6 228.2L1904.7 228.7L1890.7 230.5L1879.1 235.2L1867.4 238.7L1873.3 242.2L1869.8 251.5L1861.6 256.1L1857.0 251.5L1853.9 245.7L1849.3 246.6L1844.6 248.9L1838.1 252.6L1832.5 255.4L1826.9 258.2L1823.2 261.0L1818.5 261.5L1813.0 261.9L1813.9 264.7L1811.1 266.6L1806.5 269.4L1800.0 271.7L1795.3 270.3L1799.0 266.6L1800.9 263.8L1802.8 260.0L1802.8 256.3L1800.9 252.6L1799.0 249.8L1795.3 247.0L1791.5 245.2L1786.0 244.3L1778.5 242.9L1772.1 241.0L1768.0 239.3L1767.0 237.8L1766.5 239.1L1739.5 239.1L1665.3 239.8L1661.8 232.9L1664.2 221.2L1654.8 216.6L1654.4 211.9L1659.5 213.8L1666.5 207.3L1665.3 193.3L1650.7 190.5ZM1746.5 145.7L1758.1 139.8L1772.1 136.3L1783.7 137.5L1781.4 141.0L1772.1 143.3L1765.1 148.0L1753.5 148.7ZM1786.0 145.7L1797.7 141.0L1809.3 138.7L1823.3 138.7L1832.6 143.3L1827.9 149.1L1818.6 150.3L1809.3 153.8L1800.0 155.0L1790.7 151.9ZM1774.4 129.4L1790.7 125.9L1804.7 123.6L1818.6 125.9L1809.3 130.5L1795.3 132.9L1781.4 132.9ZM1832.6 141.0L1841.9 138.7L1851.2 141.0L1850.0 151.5L1841.9 153.8L1834.9 149.1ZM1853.5 125.9L1869.8 123.6L1886.0 125.9L1881.4 130.5L1867.4 131.7L1855.8 130.1ZM1855.8 116.6L1874.4 113.1L1897.7 110.1L1925.6 109.1L1948.8 110.8L1937.2 114.3L1920.9 116.6L1902.3 120.1L1883.7 122.4L1867.4 122.4ZM1837.2 121.2L1851.2 118.4L1858.1 121.2L1848.8 125.9L1839.5 125.4ZM1862.8 141.0L1886.0 138.7L1893.0 143.3L1902.3 150.3L1911.6 160.8L1914.0 165.4L1907.0 170.1L1897.7 167.7L1898.8 177.0L1890.7 181.7L1886.0 172.4L1890.7 165.4L1881.4 163.1L1874.4 158.4L1876.7 151.5L1867.4 148.0L1860.5 145.7ZM1837.2 181.7L1846.5 178.2L1850.0 182.9L1841.9 186.3ZM1889.5 244.5L1895.3 235.2L1904.7 230.5L1909.3 235.2L1911.6 244.5L1907.0 249.1L1900.0 245.7L1893.0 246.8ZM1860.5 260.8L1869.8 253.8L1879.1 249.1L1883.7 251.5L1874.4 257.3L1862.8 263.1ZM1650.0 218.9L1658.1 217.7L1664.0 230.5L1658.1 228.2ZM1804.7 114.3L1818.6 112.4L1830.2 114.3L1823.3 117.7L1809.3 118.4ZM1820.9 129.4L1832.6 128.2L1834.9 132.9L1825.6 134.0Z"/>
<path fill="#d39a77" d="M1690.5 153.1L1650.4 190.3L1653.9 191.5L1660.9 193.8L1665.0 193.2L1665.5 200.8L1667.3 207.7L1665.5 211.2L1660.9 213.6L1655.1 212.4L1653.9 206.6L1652.8 199.6L1650.4 193.8L1648.1 191.5L1642.3 190.3L1635.3 189.1L1630.7 190.3L1627.2 191.5L1624.8 188.0L1621.4 188.0L1616.7 190.3L1610.9 193.8L1605.1 196.7L1601.6 198.4L1595.8 200.8L1590.0 203.1L1584.2 204.8L1578.3 206.6L1572.5 208.3L1565.5 210.7L1558.6 212.4L1551.6 214.1L1545.8 215.9L1535.3 218.8L1526.0 221.5L1514.4 224.0L1502.8 225.8L1488.8 227.3L1502.8 225.0L1514.4 223.1L1526.0 220.3L1535.3 217.6L1551.6 213.0L1560.9 210.1L1570.2 206.6L1578.3 203.7L1584.2 200.8L1590.0 197.3L1588.8 196.1L1584.2 196.7L1580.7 195.0L1577.2 196.1L1579.5 193.8L1576.0 191.5L1574.8 189.1L1578.3 185.7L1584.2 182.2L1591.1 179.3L1598.1 177.5L1602.8 175.8L1605.1 174.0L1600.4 173.4L1593.5 173.4L1591.7 171.1L1593.5 168.8L1600.4 167.6L1608.6 165.3L1609.7 167.0L1613.2 165.9L1615.5 163.6L1613.2 161.2L1610.9 158.9L1616.7 156.6L1626.0 153.7L1634.2 151.3L1642.3 149.6L1653.9 147.9L1660.9 149.6L1670.2 150.2L1679.5 151.3ZM1567.9 177.5L1572.5 176.9L1576.6 178.1L1572.5 179.3ZM1565.0 191.5L1569.6 190.3L1570.8 191.5L1566.7 192.6ZM1591.7 204.3L1598.1 201.3L1605.1 199.0L1604.5 200.5L1598.1 203.3L1592.9 205.4ZM1665.3 239.8L1739.5 239.1L1766.5 239.1L1767.0 237.8L1768.0 239.3L1772.1 241.0L1778.5 242.9L1786.0 244.3L1791.5 245.2L1795.3 247.0L1799.0 249.8L1800.9 252.6L1802.8 256.3L1802.8 260.0L1800.9 263.8L1799.0 266.6L1795.3 270.3L1800.0 271.7L1806.5 269.4L1811.1 266.6L1813.9 264.7L1813.0 261.9L1818.5 261.5L1823.2 261.0L1826.9 258.2L1832.5 255.4L1838.1 252.6L1844.6 248.9L1849.3 246.6L1853.9 245.7L1856.0 248.5L1857.6 246.1L1858.1 248.9L1857.2 252.6L1854.8 256.3L1851.1 258.2L1847.4 260.1L1842.8 261.9L1841.4 264.7L1840.9 268.4L1842.3 271.2L1838.1 272.6L1832.5 274.0L1827.9 275.9L1825.1 278.7L1820.4 282.4L1816.7 283.3L1814.8 288.0L1813.9 291.7L1813.0 296.3L1810.2 301.0L1806.5 304.7L1800.9 308.4L1795.3 312.2L1787.9 318.9L1785.5 325.9L1787.9 334.0L1786.7 341.0L1784.4 345.7L1780.9 339.8L1778.6 331.7L1773.9 325.9L1766.9 323.6L1755.3 322.4L1750.7 325.9L1739.0 327.0L1729.7 330.5L1722.8 335.2L1721.6 341.0L1718.1 338.7L1713.5 334.0L1708.8 325.9L1703.0 328.2L1696.0 325.9L1692.5 317.0L1679.7 318.4L1666.9 316.6L1653.0 312.4L1643.7 305.0L1642.5 291.0L1642.1 291.0L1640.9 279.4L1644.4 270.1L1652.5 258.4L1661.8 245.7Z"/>
<path fill="none" d="M1782.5 253.0L1786.0 255.0L1785.5 260.0L1783.5 265.0L1781.0 270.5L1778.8 271.0L1779.0 266.0L1780.0 260.0L1781.0 256.0ZM1772.0 248.0L1776.5 245.5L1782.5 242.5L1788.5 240.5L1790.5 242.0L1785.5 244.5L1779.5 247.0L1774.5 249.0Z"/>
<path fill="#d39a77" d="M1484.5 367.5L1488.0 366.5L1490.5 370.5L1488.0 374.0L1485.0 372.5ZM1477.5 362.0L1480.0 361.5L1481.0 363.5L1478.5 364.0ZM1473.0 358.5L1475.0 358.0L1475.5 360.0L1473.5 360.3Z"/>
<path fill="#1b699a" d="M1653.0 312.4L1666.9 316.6L1679.7 318.4L1692.5 317.0L1696.0 325.9L1703.0 328.2L1708.8 325.9L1713.5 334.0L1718.1 338.7L1721.6 341.0L1718.1 345.7L1715.8 353.8L1716.9 363.1L1721.6 372.4L1726.2 377.0L1734.4 375.9L1741.4 372.4L1744.8 365.4L1750.7 361.9L1757.6 363.1L1754.2 372.4L1751.8 378.2L1748.3 386.3L1750.7 388.7L1757.6 387.5L1762.3 388.7L1768.1 392.2L1766.9 398.0L1765.8 405.0L1762.3 407.3L1757.6 409.6L1754.2 405.0L1746.0 401.5L1736.7 396.8L1729.7 391.0L1726.2 385.2L1720.4 387.5L1713.5 387.5L1701.8 381.7L1692.5 375.9L1685.5 368.9L1684.4 360.8L1679.7 351.5L1673.9 342.2L1669.3 335.2L1665.8 325.9L1662.3 316.6L1659.5 318.9L1660.4 325.9L1663.5 332.9L1666.9 342.2L1670.4 352.6L1669.3 355.0L1663.5 348.0L1661.1 341.0L1657.6 337.5L1654.2 334.0L1656.5 331.7L1653.5 321.2Z"/>
<path fill="#75abc8" d="M1748.3 378.2L1751.8 371.2L1751.1 384.0L1747.6 386.3Z"/>
<path fill="#d39a77" d="M1757.6 409.6L1762.3 410.8L1766.9 414.3L1770.4 418.9L1766.9 420.1L1762.3 416.6L1757.6 413.1Z"/>
<path fill="#1b699a" d="M1770.4 418.9L1776.2 417.7L1783.2 416.6L1789.0 421.2L1787.9 424.7L1783.2 421.2L1777.4 422.4L1773.9 425.9L1770.4 422.4Z"/>
<path fill="#d39a77" d="M1766.5 359.6L1772.8 356.1L1783.2 357.3L1792.5 360.8L1799.5 365.4L1806.5 368.9L1799.5 369.6L1792.5 366.6L1785.5 361.9L1776.2 360.3L1769.3 360.8ZM1810.0 370.5L1816.2 370.1L1816.2 375.9L1810.0 375.2L1806.0 377.0L1810.0 374.3Z"/>
<path fill="#1b699a" d="M1816.2 370.1L1823.9 371.2L1828.6 375.2L1822.8 377.5L1816.2 378.9Z"/>
<path fill="#75abc8" d="M1789.0 377.5L1793.7 376.6L1797.2 378.4L1792.5 379.8Z"/>
<path fill="#d39a77" d="M1833.2 376.6L1839.0 376.6L1839.0 378.7L1833.2 378.7Z"/>
<path fill="#1b699a" d="M1810.0 405.0L1813.5 409.6L1816.9 407.3L1812.3 414.3L1815.8 417.7L1822.8 411.9L1832.1 411.9L1841.4 413.1L1849.5 411.9L1854.2 416.6L1856.5 425.9L1860.0 422.4L1866.9 430.5L1879.7 432.9L1889.0 438.7L1892.5 443.3L1897.2 451.5L1899.5 458.4L1911.1 464.3L1923.9 470.1L1934.4 473.6L1946.0 477.0L1955.3 482.9L1958.8 491.0L1956.5 500.3L1948.3 511.9L1943.7 523.6L1941.4 531.0L1943.5 532.9L1941.1 546.8L1937.6 556.1L1933.0 561.9L1921.4 565.4L1914.4 572.4L1909.7 579.4L1909.7 586.3L1905.1 594.5L1899.3 603.8L1894.6 614.3L1887.6 617.7L1879.5 614.3L1881.8 621.2L1886.5 625.9L1883.0 631.7L1874.8 634.0L1869.0 636.3L1867.9 643.3L1860.9 644.5L1863.2 651.5L1864.4 658.4L1858.6 664.3L1863.2 671.2L1865.5 677.0L1859.7 684.0L1859.7 691.0L1864.4 698.0L1872.5 703.8L1883.0 705.4L1874.8 709.1L1860.9 705.0L1849.3 698.0L1840.0 688.7L1834.2 677.0L1830.7 665.4L1828.3 651.5L1824.8 635.2L1823.7 621.2L1826.0 607.3L1823.7 593.3L1823.7 579.4L1822.5 560.8L1821.4 542.2L1812.1 532.9L1804.2 531.0L1799.5 525.9L1794.8 516.6L1787.9 505.0L1779.7 493.3L1773.9 484.0L1777.4 474.7L1775.1 465.4L1778.6 456.1L1784.4 451.5L1789.0 439.8L1790.2 430.5L1793.7 421.2L1797.2 411.9L1804.2 407.3Z"/>
<path fill="#75abc8" d="M1810.0 405.0L1804.2 407.3L1797.2 411.9L1793.7 421.2L1790.2 430.5L1789.0 439.8L1784.4 451.5L1792.5 456.1L1801.8 461.9L1807.6 468.9L1818.1 471.2L1819.3 458.4L1828.6 451.5L1829.7 442.2L1826.2 432.9L1816.9 428.2L1808.8 423.6L1810.0 416.6L1812.3 408.4Z"/>
<path fill="#d39a77" d="M1856.5 425.9L1860.0 422.4L1866.9 430.5L1869.3 435.2L1866.9 442.2L1870.4 449.1L1862.3 452.6L1858.8 444.5L1854.2 435.2Z"/>
<path fill="#75abc8" d="M1869.3 434.0L1879.7 432.9L1882.1 439.8L1880.9 448.0L1873.9 449.1L1870.4 449.1L1866.9 442.2Z"/>
<path fill="#d39a77" d="M1882.1 434.0L1889.0 438.7L1890.2 442.2L1884.4 449.1L1880.9 448.0L1882.1 439.8Z"/>
<path fill="#75abc8" d="M1877.2 596.8L1881.8 598.0L1888.8 603.8L1894.6 608.4L1894.6 614.3L1887.6 617.7L1879.5 614.3L1877.2 607.3Z"/>
<path fill="#ffffff" d="M1888.8 691.5L1893.5 689.8L1899.3 690.5L1896.9 693.8L1891.1 694.5Z"/>
<path fill="#d39a77" d="M1910.8 126.3L1918.7 122.8L1934.4 118.4L1950.1 113.2L1969.3 110.6L1986.7 108.8L2004.2 107.6L2021.6 107.1L2039.0 108.0L2049.5 109.7L2056.5 112.3L2069.6 112.9L2061.7 115.3L2053.0 117.6L2049.5 122.8L2046.0 128.9L2049.5 133.3L2042.5 135.9L2037.3 140.2L2033.8 145.5L2037.3 148.1L2028.6 150.7L2021.6 151.6L2018.1 149.8L2007.6 156.8L1997.2 162.0L1986.7 168.2L1976.2 174.3L1967.5 180.4L1962.3 188.2L1958.8 192.6L1951.8 190.0L1944.8 184.7L1941.4 177.7L1938.7 170.8L1937.9 163.8L1940.5 158.6L1946.6 153.3L1940.5 152.5L1944.0 146.3L1943.1 139.4L1941.4 134.1L1934.4 130.7L1923.9 129.8L1915.2 128.9Z"/>
<path fill="#75abc8" d="M2024.2 170.8L2028.6 166.4L2037.3 167.3L2047.8 165.9L2055.6 168.2L2056.5 171.6L2051.2 175.1L2042.5 177.7L2033.8 176.9L2028.6 176.0L2027.7 172.5Z"/>
<path fill="#d39a77" stroke="none" d="M1714.0 193.3L1794.2 193.3L1797.7 203.8L1809.3 207.3L1820.9 213.1L1823.3 225.9L1819.8 239.8L1818.6 249.1L1826.7 255.0L1832.6 253.8L1809.3 264.3L1797.7 270.1L1795.3 263.1L1804.7 258.4L1810.5 253.8L1807.0 249.1L1798.8 242.2L1790.7 239.8L1776.7 244.5L1767.4 239.8L1701.2 239.1L1697.7 225.9L1694.2 220.1L1702.3 207.3Z"/>
<path fill="#75abc8" stroke="none" d="M1818.6 249.1L1819.8 239.8L1826.7 230.5L1832.6 221.2L1844.2 202.6L1852.3 186.3L1858.1 182.9L1869.8 182.9L1876.7 191.0L1874.4 200.3L1882.6 200.3L1889.5 194.5L1893.0 191.0L1890.7 202.6L1887.2 211.9L1879.1 215.4L1872.1 217.7L1870.9 223.6L1879.1 227.0L1890.7 227.0L1904.7 228.2L1897.7 230.5L1886.0 232.9L1874.4 237.5L1862.8 242.2L1851.2 246.8L1839.5 251.5L1830.2 256.1L1823.3 253.8ZM1857.0 242.2L1867.4 238.7L1873.3 242.2L1869.8 251.5L1861.6 256.1L1857.0 251.5Z"/>
<path fill="#d39a77" stroke="none" d="M1785.5 243.0L1795.5 244.0L1835.5 253.0L1829.5 259.0L1814.5 266.0L1796.5 273.0L1792.5 269.0L1799.5 259.0L1797.5 249.0ZM1766.5 238.6L1779.5 241.0L1791.5 244.5L1795.5 248.0L1784.5 248.0L1771.5 243.0Z"/>
<path fill="none" d="M1772.0 248.0L1776.5 245.5L1782.5 242.5L1788.5 240.5L1790.5 242.0L1785.5 244.5L1779.5 247.0L1774.5 249.0ZM1795.5 247.0L1800.5 250.0L1803.5 257.0L1801.5 264.0L1797.5 267.0L1798.5 260.0L1797.5 253.0ZM1795.5 270.0L1800.5 272.0L1807.5 269.0L1813.5 265.0L1810.5 264.0L1803.5 267.0L1797.5 268.0ZM1813.5 262.0L1819.5 261.5L1825.5 259.0L1823.5 257.5L1817.5 259.0Z"/>
<path fill="#75abc8" stroke="none" d="M1653.1 312.7L1682.7 318.8L1680.1 328.4L1677.5 339.8L1673.1 339.8L1666.2 326.7L1664.4 318.0L1660.1 316.2L1660.9 325.0L1666.2 335.4L1671.4 353.7L1668.8 356.3L1661.8 344.1L1654.0 331.9L1655.7 323.2Z"/>
<path fill="#ffffff" stroke="none" d="M1682.7 318.8L1692.3 317.1L1697.6 325.0L1700.2 331.1L1695.8 337.2L1690.6 339.8L1686.2 343.3L1681.9 339.8L1678.4 334.5L1681.0 326.7Z"/>
<path fill="#75abc8" stroke="none" d="M1685.3 359.8L1695.8 358.1L1701.0 361.6L1697.6 368.6L1694.1 374.7L1688.8 373.8L1684.5 368.6Z"/>
<path fill="#d39a77" stroke="none" d="M1739.4 380.8L1745.5 379.9L1746.4 387.7L1741.2 387.7Z"/>
<path fill="#75abc8" stroke="none" d="M1734.2 388.6L1744.7 387.7L1746.4 394.7L1737.7 396.5L1735.1 393.0Z"/>
<path fill="#d39a77" stroke="none" d="M1762.1 394.7L1768.2 393.0L1767.3 405.2L1764.7 412.2L1762.1 406.9Z"/>
<path fill="#75abc8" stroke="none" d="M1756.9 410.4L1764.7 411.3L1769.1 415.7L1774.3 421.8L1769.1 422.6L1762.1 417.4L1757.7 413.9Z"/>
<path fill="#ffffff" stroke="none" d="M1757.2 410.8L1764.2 411.5L1763.0 413.9L1758.6 413.6Z"/>
<path fill="#75abc8" stroke="none" d="M1817.9 371.2L1824.9 372.0L1828.4 375.5L1821.4 375.9Z"/>
<path fill="#d39a77" stroke="none" d="M1788.3 427.9L1793.5 422.6L1797.0 433.1L1798.7 441.8L1795.2 448.8L1790.0 452.3L1786.5 448.8L1788.3 438.3Z"/>
<path fill="#ffffff" stroke="none" d="M1800.5 445.3L1812.7 440.1L1814.4 447.0L1805.7 452.3L1800.5 451.4ZM1790.9 441.8L1795.2 439.2L1795.2 444.4L1791.7 447.0Z"/>
<path fill="#b95e2d" stroke="none" d="M1803.1 415.7L1812.7 404.3L1815.3 406.1L1807.4 417.4Z"/>
<path fill="#ffffff" stroke="none" d="M1823.0 548.1L1834.7 557.4L1833.5 569.1L1830.0 576.0L1824.2 576.0L1822.6 559.8ZM1826.5 540.0L1835.8 538.8L1838.1 545.8L1832.3 549.3L1827.7 545.8Z"/>
<path fill="#75abc8" stroke="none" d="M1809.1 527.2L1814.9 528.4L1821.9 536.5L1824.2 545.8L1827.7 555.1L1823.0 548.1L1817.2 538.8L1807.9 530.7ZM1824.2 577.2L1832.3 576.0L1838.1 583.0L1842.8 585.3L1847.4 592.3L1840.5 590.0L1834.7 587.7L1830.0 592.3L1824.2 593.5ZM1848.6 577.2L1857.9 576.0L1860.2 590.0L1862.6 606.3L1861.4 615.6L1854.4 616.7L1849.8 599.3L1847.4 587.7ZM1854.4 564.4L1873.0 574.9L1876.5 566.7L1882.3 571.4L1882.3 579.5L1875.3 583.0L1866.0 578.4L1856.7 571.4Z"/>
<path fill="#ffffff" stroke="none" d="M1876.5 572.6L1882.3 571.4L1883.5 578.4L1877.7 580.7Z"/>
<path fill="#75abc8" stroke="none" d="M1835.8 562.1L1841.6 559.8L1847.4 566.7L1845.1 571.4L1838.1 569.1Z"/>
<path fill="#ffffff" stroke="none" d="M1841.6 605.1L1849.8 604.0L1853.3 615.6L1854.0 623.7L1848.6 623.7L1845.1 613.3Z"/>
<path fill="#75abc8" stroke="none" d="M1860.2 615.6L1870.7 610.9L1878.8 616.7L1885.8 624.9L1883.5 631.9L1875.3 635.3L1868.4 636.5L1863.7 629.5L1861.4 622.6Z"/>
<path fill="#d39a77" stroke="none" d="M1877.2 598.1L1883.5 597.4L1887.0 602.8L1882.3 606.3L1877.7 605.1Z"/>
<path fill="#ffffff" stroke="none" d="M1877.7 605.8L1883.5 606.3L1882.3 610.9L1878.8 610.5Z"/>
<path fill="#d39a77" stroke="none" d="M1889.3 608.6L1894.4 608.1L1894.0 614.4L1889.8 613.3Z"/>
<path fill="#ffffff" stroke="none" d="M1835.8 650.5L1838.1 638.8L1845.1 631.9L1861.4 636.5L1866.0 638.8L1868.4 644.7L1860.2 644.7L1859.1 650.5Z"/>
<path fill="#75abc8" stroke="none" d="M1826.5 642.3L1835.8 641.2L1835.8 650.5L1828.8 652.8Z"/>
<path fill="#d39a77" stroke="none" d="M1830.0 659.8L1838.1 659.8L1841.6 666.7L1842.8 678.4L1837.0 680.7L1832.3 673.7Z"/>
<path fill="#75abc8" d="M2080.0 199.9L2087.0 198.2L2091.4 202.5L2088.7 207.7L2093.1 209.5L2095.7 214.7L2099.2 220.0L2102.7 223.4L2101.8 227.8L2096.6 230.4L2087.9 231.3L2080.0 233.9L2083.5 228.7L2080.9 226.1L2086.1 221.7L2081.8 218.2L2079.2 213.0L2076.5 207.7L2077.4 202.5ZM2064.3 217.3L2071.3 213.0L2077.4 213.8L2078.3 220.0L2075.7 225.2L2068.7 227.8L2062.6 226.1L2065.2 221.7Z"/>
<path fill="#ffffff" d="M2124.5 118.4L2133.2 117.0L2143.7 117.6L2154.2 116.3L2164.6 117.6L2161.1 121.9L2157.6 125.4L2150.7 123.7L2143.7 128.0L2136.7 125.4L2129.7 122.8Z"/>
<path fill="#d39a77" d="M2114.0 184.2L2121.0 179.0L2128.0 174.6L2133.2 168.5L2136.7 162.4L2141.9 157.2L2150.7 151.9L2161.1 149.3L2171.6 148.1L2182.1 149.3L2185.5 151.9L2178.6 153.7L2171.6 155.4L2161.1 157.2L2152.4 159.8L2146.3 163.3L2141.9 171.1L2137.6 178.1L2135.0 186.8L2134.1 195.5L2128.9 198.2L2122.8 200.8L2117.5 198.2L2114.0 192.0ZM2146.3 163.3L2152.4 159.8L2161.1 157.2L2166.4 159.8L2169.0 167.6L2163.7 172.0L2161.1 176.3L2155.0 179.8L2153.3 186.8L2157.6 191.2L2156.8 197.3L2153.3 204.3L2149.8 208.6L2143.7 211.2L2140.2 207.7L2136.7 200.8L2134.1 195.5L2135.0 186.8L2137.6 178.1L2141.9 171.1ZM2171.6 155.4L2178.6 153.7L2183.8 157.2L2187.3 167.6L2190.8 174.6L2194.3 180.7L2189.0 186.8L2182.1 190.3L2171.6 192.0L2165.5 189.4L2163.7 181.6L2169.8 174.6L2173.3 170.2L2169.0 167.6L2166.4 159.8Z"/>
<path fill="#b95e2d" d="M2124.5 206.0L2129.7 203.4L2132.3 207.7L2131.5 213.0L2127.1 213.8L2124.8 211.2ZM2135.0 210.4L2139.3 209.5L2140.2 212.6L2135.8 213.3Z"/>
<path fill="#1b699a" d="M2173.3 194.7L2182.1 192.9L2187.3 194.7L2187.3 199.9L2180.3 200.8L2174.2 199.0Z"/>
<path fill="#d39a77" d="M2168.1 202.5L2175.1 200.8L2187.3 200.8L2189.0 206.0L2182.1 207.7L2171.6 206.9L2168.1 206.0ZM2169.0 207.7L2182.1 207.7L2187.3 210.4L2184.7 215.6L2178.6 217.3L2171.6 213.0L2169.0 211.2Z"/>
<path fill="#ffffff" d="M2187.3 210.4L2197.8 209.5L2204.7 216.5L2206.5 221.7L2201.2 226.9L2189.0 226.9L2180.3 226.1L2178.6 218.2L2184.7 215.6Z"/>
<path fill="#d39a77" d="M2146.3 219.1L2155.9 214.7L2164.6 216.5L2176.8 217.3L2179.4 226.9L2178.6 233.9L2175.1 237.4L2166.4 236.5L2157.6 234.8L2150.7 231.3L2148.0 225.2ZM2126.2 216.5L2131.5 214.7L2136.7 216.5L2143.7 216.5L2146.3 219.1L2148.0 225.2L2150.7 231.3L2143.7 233.9L2140.2 237.4L2144.6 242.6L2140.2 245.2L2131.5 246.1L2125.4 244.4L2124.5 238.3L2120.1 233.9L2119.3 227.8L2121.9 221.7ZM2114.0 222.6L2121.9 220.0L2121.9 225.2L2119.3 228.7L2114.9 228.7L2112.3 226.1Z"/>
<path fill="#ffffff" d="M2107.9 230.4L2114.9 228.7L2118.4 233.0L2114.0 234.8L2109.7 233.0ZM2140.2 237.4L2144.6 232.2L2150.7 231.3L2157.6 234.8L2161.1 237.4L2154.2 240.9L2147.2 240.0L2141.9 239.1ZM2157.6 240.0L2164.6 237.4L2175.1 238.3L2174.2 242.6L2166.4 243.5L2158.5 243.5Z"/>
<path fill="#75abc8" d="M2140.2 245.2L2144.6 242.6L2149.8 240.0L2157.6 241.8L2155.9 247.0L2148.9 249.6L2141.9 247.9L2135.0 247.0Z"/>
<path fill="#d39a77" d="M2156.8 247.0L2161.1 243.5L2174.2 242.6L2176.0 246.1L2171.6 251.3L2162.9 253.1L2157.6 251.3Z"/>
<path fill="#75abc8" d="M2121.9 247.0L2131.5 246.1L2133.2 249.6L2126.2 252.2L2121.0 251.3Z"/>
<path fill="#d39a77" d="M2081.8 241.8L2091.4 239.1L2096.6 240.0L2098.3 235.7L2103.6 233.9L2107.9 230.4L2109.7 233.0L2114.0 234.8L2118.4 233.0L2124.5 238.3L2125.4 244.4L2121.9 247.0L2121.0 251.3L2122.8 258.3L2121.9 263.6L2114.0 264.4L2107.1 268.8L2100.1 267.0L2093.1 265.3L2092.2 256.6L2089.6 249.6L2083.5 245.2ZM2128.9 266.2L2131.5 265.3L2131.8 271.4L2129.4 271.9Z"/>
<path fill="#75abc8" d="M2064.3 265.3L2072.2 262.7L2084.4 263.6L2093.1 265.3L2100.1 267.0L2107.9 268.8L2105.3 273.2L2099.2 277.5L2096.6 284.5L2093.1 289.7L2084.4 291.5L2077.4 294.1L2072.2 292.3L2071.3 284.5L2073.0 275.8L2072.2 270.5L2066.1 270.5Z"/>
<path fill="#ffffff" d="M2066.1 270.5L2072.2 270.5L2073.0 275.8L2071.3 284.5L2070.4 291.5L2065.2 291.5L2063.5 282.7L2065.2 275.8ZM2122.8 258.3L2128.0 260.1L2133.2 259.2L2140.2 254.0L2145.4 253.1L2148.0 255.7L2143.7 258.3L2146.3 265.3L2152.4 270.5L2159.4 275.8L2164.6 279.3L2161.1 281.0L2157.6 279.3L2156.8 284.5L2153.3 288.0L2154.2 282.7L2148.9 277.5L2142.8 272.3L2136.7 267.0L2131.5 263.6L2126.2 264.4L2121.9 263.6ZM2144.6 288.8L2154.2 287.1L2153.3 292.3L2147.2 291.5ZM2128.0 274.9L2132.3 274.0L2133.2 282.7L2128.9 283.6ZM2154.2 254.8L2161.1 255.7L2171.6 251.3L2174.2 256.6L2180.3 262.7L2179.4 268.8L2171.6 269.7L2169.0 270.5L2163.7 267.9L2157.6 263.6L2153.3 258.3Z"/>
<path fill="#d39a77" d="M2147.2 251.3L2156.8 249.6L2162.9 253.1L2161.1 255.7L2154.2 254.8L2153.3 258.3L2157.6 263.6L2163.7 267.9L2161.1 268.8L2154.2 263.6L2149.8 258.3L2146.3 255.7ZM2176.0 246.1L2182.1 244.4L2192.5 244.4L2196.9 251.3L2200.4 254.8L2203.0 256.6L2199.5 260.9L2189.0 260.9L2180.3 262.7L2174.2 256.6L2171.6 251.3Z"/>
<path fill="#1b699a" d="M2191.7 241.8L2196.9 242.6L2202.1 249.6L2203.9 253.1L2200.4 254.0L2196.9 249.6L2193.4 245.2Z"/>
<path fill="#d39a77" d="M2179.4 263.6L2189.0 260.9L2199.5 260.9L2200.4 265.3L2197.8 268.8L2196.9 271.4L2189.0 272.3L2182.1 272.3L2179.4 268.8Z"/>
<path fill="#75abc8" d="M2171.6 279.3L2176.8 275.8L2183.8 273.2L2194.3 273.2L2196.0 275.8L2189.0 275.8L2183.8 278.4L2187.3 282.7L2190.8 289.7L2194.3 295.0L2189.0 293.2L2185.5 288.0L2180.3 286.2L2182.1 291.5L2179.4 293.2L2175.1 286.2L2172.5 281.9ZM2185.5 299.3L2194.3 299.3L2195.1 301.1L2186.4 301.1Z"/>
<path fill="#d39a77" d="M2169.0 269.7L2179.4 268.8L2180.3 272.6L2174.2 275.8L2171.6 279.3L2169.5 275.8Z"/>
<path fill="#75abc8" d="M2179.4 226.9L2189.0 226.9L2201.2 226.9L2206.5 225.2L2216.9 227.8L2225.7 233.0L2236.1 236.5L2237.0 242.6L2232.6 247.0L2225.7 249.6L2221.3 251.3L2216.9 249.6L2213.5 253.1L2206.5 251.3L2203.0 256.6L2203.9 253.1L2202.1 249.6L2196.9 242.6L2191.7 241.8L2187.3 243.5L2182.1 244.4L2176.0 246.1L2174.2 242.6L2175.1 238.3L2178.6 233.9Z"/>
<path fill="#ffffff" d="M2221.3 251.3L2225.7 249.6L2230.9 248.2L2232.6 251.3L2225.7 254.8L2222.2 253.4Z"/>
<path fill="#75abc8" d="M2195.1 276.6L2201.2 273.2L2211.7 271.4L2222.2 270.5L2232.6 272.3L2241.4 273.2L2248.3 272.3L2257.1 274.0L2263.2 278.4L2264.9 282.7L2261.4 288.0L2253.6 290.6L2244.8 291.5L2234.4 292.3L2229.2 295.0L2222.2 292.3L2213.5 295.0L2205.6 293.2L2199.5 288.0L2197.8 282.7ZM2196.0 270.5L2201.2 270.5L2203.0 274.0L2197.8 274.9Z"/>
<path fill="#ffffff" d="M2219.6 301.1L2225.7 298.8L2226.5 301.1L2221.3 302.8Z"/>
<path fill="#d39a77" d="M2247.5 265.3L2255.3 266.2L2264.0 268.8L2272.8 270.5L2278.0 272.3L2282.3 277.5L2278.0 279.3L2274.5 281.0L2269.3 279.3L2264.9 278.4L2263.2 274.0L2257.1 273.2L2250.1 270.5Z"/>
<path fill="#b95e2d" stroke="none" d="M2161.1 150.2L2171.6 148.4L2182.1 150.2L2178.6 154.5L2169.8 157.2L2162.9 155.4Z"/>
<path fill="#ffffff" stroke="none" d="M2171.6 198.2L2178.6 197.3L2187.3 198.2L2187.3 200.8L2173.3 201.6Z"/>
<path fill="#b95e2d" stroke="none" d="M2171.6 209.5L2176.8 208.6L2180.3 213.0L2176.8 215.6L2172.5 213.0Z"/>
<path fill="#ffffff" stroke="none" d="M2146.3 218.2L2154.2 215.6L2154.2 221.7L2147.2 223.4Z"/>
<path fill="#b95e2d" stroke="none" d="M2154.2 214.7L2161.1 214.7L2162.0 219.1L2155.0 219.1ZM2172.5 226.1L2178.6 226.9L2179.4 233.9L2175.1 233.0ZM2135.0 221.7L2143.7 220.8L2146.3 228.7L2140.2 233.9L2132.3 232.2ZM2149.8 194.7L2155.0 192.9L2155.9 196.4L2151.5 199.0Z"/>
<path fill="#ffffff" stroke="none" d="M2091.4 244.4L2100.1 244.4L2101.0 251.3L2093.1 251.3Z"/>
<path fill="#75abc8" stroke="none" d="M2094.0 251.3L2100.1 251.3L2100.1 256.6L2105.3 256.6L2105.3 251.3L2107.9 252.2L2110.5 259.2L2105.3 260.9L2100.1 260.1L2094.8 257.5Z"/>
<path fill="#ffffff" stroke="none" d="M2100.1 251.3L2105.3 251.3L2105.3 256.6L2100.1 256.6Z"/>
<path fill="#75abc8" stroke="none" d="M2101.8 235.7L2108.8 234.8L2110.5 239.1L2104.4 240.0Z"/>
<path fill="#d39a77" stroke="none" d="M2072.2 287.1L2087.9 286.2L2091.4 289.7L2084.4 294.1L2075.7 293.2ZM2101.8 268.8L2107.9 268.8L2105.3 273.2L2101.0 273.2ZM2064.3 282.7L2070.4 282.7L2071.3 291.5L2065.2 291.8Z"/>
<path fill="#ffffff" stroke="none" d="M2086.5 268.4L2090.7 268.4L2090.7 270.9L2086.5 270.9Z"/>
<path fill="#75abc8" stroke="none" d="M2124.5 251.3L2140.2 254.0L2145.4 253.1L2148.0 255.7L2143.7 258.3L2133.2 259.2L2128.0 260.1L2122.8 258.3Z"/>
<path fill="#d39a77" stroke="none" d="M2126.2 260.1L2133.2 259.2L2136.7 267.0L2131.5 263.6L2126.2 264.4L2121.9 263.6L2122.8 258.3Z"/>
<path fill="#75abc8" stroke="none" d="M2136.7 267.0L2143.7 258.3L2146.3 265.3L2152.4 270.5L2148.9 277.5L2142.8 272.3Z"/>
<path fill="#b95e2d" stroke="none" d="M2148.9 273.2L2154.2 272.3L2159.4 275.8L2157.6 279.3L2152.4 278.4Z"/>
<path fill="#d39a77" stroke="none" d="M2128.0 274.9L2132.3 274.0L2133.2 282.7L2128.9 283.6Z"/>
<path fill="#75abc8" stroke="none" d="M2154.2 255.7L2161.1 255.7L2164.6 260.1L2161.1 263.6L2156.8 260.9Z"/>
<path fill="#d39a77" stroke="none" d="M2171.6 251.3L2174.2 256.6L2180.3 262.7L2179.4 268.8L2175.1 265.3L2171.6 260.1L2168.1 254.8Z"/>
<path fill="#1b699a" stroke="none" d="M2172.5 281.0L2176.8 279.3L2180.3 286.2L2182.1 291.5L2179.4 293.2L2175.1 286.2Z"/>
<path fill="#75abc8" d="M2185.5 151.9L2183.8 157.2L2187.3 167.6L2190.8 174.6L2194.3 180.7L2189.0 186.8L2187.3 190.3L2189.0 191.2L2187.3 194.7L2187.3 199.9L2189.0 206.0L2187.3 210.4L2197.8 209.5L2204.7 216.5L2206.5 221.7L2206.5 225.2L2216.9 227.8L2225.7 233.0L2236.1 236.5L2237.0 242.6L2232.6 247.0L2237.9 249.6L2234.4 253.1L2239.6 256.6L2247.5 265.3L2255.3 266.2L2264.0 268.8L2272.8 270.5L2272.8 268.8L2268.4 261.8L2266.7 255.7L2271.9 251.3L2279.7 248.7L2285.0 251.3L2282.3 256.6L2276.2 259.2L2278.0 264.4L2283.2 268.8L2288.5 270.5L2290.2 270.5L2293.7 268.8L2298.9 272.3L2305.9 272.3L2309.4 267.9L2318.1 270.5L2325.1 275.8L2335.5 282.7L2344.3 288.0L2344.4 288.2L2347.9 284.7L2352.5 280.1L2359.5 281.2L2368.8 282.4L2375.8 284.7L2370.0 284.7L2371.1 280.1L2382.8 273.1L2389.7 268.4L2385.1 261.5L2389.7 256.8L2390.9 249.8L2399.0 247.5L2402.5 239.4L2408.3 242.9L2417.6 247.5L2420.0 254.5L2426.9 256.8L2436.2 260.3L2450.2 265.0L2464.2 267.3L2478.1 270.8L2487.4 268.4L2496.7 263.8L2499.0 259.1L2513.0 252.2L2524.6 248.7L2520.0 244.0L2503.7 242.9L2502.5 238.2L2509.5 231.2L2507.2 221.9L2515.3 219.6L2529.3 221.9L2538.6 231.2L2550.2 238.2L2561.8 244.0L2571.1 242.9L2570.0 249.8L2572.3 259.1L2568.8 266.1L2573.5 263.8L2580.4 266.1L2585.1 261.5L2588.6 249.8L2587.4 240.5L2585.1 231.2L2578.1 219.6L2568.8 216.1L2559.5 217.3L2550.2 212.6L2552.5 201.0L2559.5 195.2L2573.5 194.0L2589.7 194.0L2592.1 185.9L2603.7 185.9L2608.3 182.4L2613.0 187.0L2610.7 194.0L2615.3 203.3L2624.6 217.3L2633.9 231.2L2637.4 226.6L2636.2 215.0L2631.6 203.3L2622.3 194.0L2629.3 190.5L2638.6 191.7L2645.5 184.7L2654.8 181.2L2640.9 170.8L2631.6 165.0L2617.6 156.8L2599.0 153.3L2589.7 155.7L2578.1 153.3L2561.8 155.7L2547.9 148.7L2533.9 148.7L2520.0 146.3L2506.0 144.0L2492.5 141.6L2487.3 143.3L2482.1 146.8L2471.6 148.6L2462.9 146.8L2455.9 141.6L2447.2 139.0L2436.7 138.1L2429.7 140.7L2419.3 139.8L2408.8 138.1L2400.1 138.1L2391.4 140.7L2398.3 136.3L2401.0 132.0L2394.8 128.5L2384.4 127.6L2373.9 126.8L2363.5 125.0L2356.5 128.5L2346.0 130.2L2335.5 132.9L2328.6 135.5L2319.8 139.8L2325.1 141.6L2332.1 146.8L2335.5 151.2L2328.6 146.8L2321.6 143.3L2318.1 141.6L2311.1 143.3L2304.2 145.1L2308.5 150.3L2312.9 155.5L2315.5 160.8L2311.1 166.0L2304.2 165.1L2307.6 159.0L2304.2 152.0L2300.7 144.2L2295.4 139.8L2290.2 140.7L2286.7 146.8L2290.2 152.0L2297.2 158.2L2293.7 157.3L2285.0 154.7L2276.2 151.2L2265.8 152.0L2272.8 156.4L2269.3 155.5L2262.3 157.3L2253.6 156.4L2244.8 159.0L2237.0 162.5L2234.4 159.9L2229.2 157.3L2225.7 159.9L2228.3 164.3L2223.9 166.0L2217.8 167.7L2218.7 171.2L2213.5 175.6L2210.0 172.1L2203.0 169.5L2204.7 166.0L2210.0 167.7L2216.1 168.6L2218.7 164.3L2215.2 159.9L2206.5 156.4L2199.5 155.5L2203.0 155.4L2192.5 153.7ZM2242.2 145.1L2245.7 136.3L2253.6 131.1L2264.0 127.6L2276.2 126.8L2278.0 128.5L2269.3 130.2L2260.5 133.7L2255.3 138.1L2252.7 143.3L2255.3 147.7L2260.5 149.4L2255.3 150.3L2248.3 149.4L2244.0 147.7ZM2323.3 114.5L2332.1 113.7L2342.5 117.2L2349.5 119.8L2347.8 121.5L2339.0 120.7L2328.6 118.0ZM2352.1 119.8L2363.5 121.5L2365.2 123.3L2356.5 124.1L2352.1 122.4ZM2461.1 130.2L2471.6 129.4L2483.8 132.0L2478.6 134.6L2468.1 133.7ZM2487.3 132.0L2499.5 132.9L2503.0 134.6L2499.5 136.0L2490.8 134.6Z"/>
<path fill="#ffffff" d="M2208.2 115.4L2220.4 114.0L2234.4 112.8L2251.8 113.7L2257.1 114.5L2243.1 116.8L2225.7 117.2L2213.5 116.8Z"/>
<path fill="#75abc8" d="M2581.6 217.3L2585.1 221.9L2592.1 233.6L2599.0 242.9L2606.0 249.8L2601.4 249.8L2594.4 242.9L2587.4 233.6L2581.6 224.3ZM2161.1 213.0L2169.0 211.6L2169.8 214.7L2162.9 216.1Z"/>
<path fill="#d39a77" d="M2290.2 270.5L2293.7 268.8L2298.9 272.3L2305.9 272.3L2309.4 267.9L2318.1 270.5L2325.1 275.8L2335.5 282.7L2344.3 288.0L2342.5 293.2L2335.5 295.8L2332.1 300.2L2325.1 295.0L2314.6 291.5L2305.9 287.1L2297.2 288.0L2293.7 282.7L2291.1 275.8ZM2346.7 287.0L2352.5 280.1L2359.5 281.2L2368.8 282.4L2375.8 284.7L2375.8 287.0L2378.1 294.0L2368.8 292.9L2359.5 294.0L2352.5 291.7L2347.9 292.9Z"/>
<path fill="#ffffff" d="M2336.2 298.7L2343.2 298.7L2347.9 292.9L2359.5 294.0L2368.8 292.9L2378.1 294.0L2385.1 295.2L2375.8 298.7L2368.8 308.0L2364.2 317.3L2354.8 321.9L2347.9 327.7L2336.2 326.6L2329.3 319.6L2328.1 308.0Z"/>
<path fill="#1b699a" d="M2261.4 281.0L2264.9 282.7L2269.3 284.5L2274.5 281.0L2278.0 279.3L2278.9 282.7L2280.6 286.2L2285.0 290.6L2293.7 292.3L2297.2 288.0L2305.9 287.1L2314.6 291.5L2325.1 295.0L2326.8 301.9L2329.0 312.6L2334.8 324.3L2341.8 335.9L2338.3 345.2L2329.0 345.2L2319.7 341.7L2315.1 337.0L2308.1 339.4L2301.1 335.9L2294.2 328.9L2287.2 321.9L2281.4 315.0L2274.4 308.0L2268.4 303.7L2264.0 296.7L2265.8 291.5L2262.3 286.2Z"/>
<path fill="#d39a77" d="M2252.7 291.5L2261.4 288.0L2262.3 286.2L2265.8 291.5L2264.0 296.7L2268.4 303.7L2274.4 308.0L2281.4 315.0L2279.0 324.3L2275.5 325.4L2268.6 320.8L2259.3 315.0L2250.0 310.3L2245.3 308.0L2250.1 305.4L2251.8 298.4Z"/>
<path fill="#ffffff" d="M2234.4 292.3L2244.8 291.5L2252.7 291.5L2251.8 298.4L2250.1 305.4L2241.4 308.9L2236.1 307.2L2233.5 302.8L2232.6 296.7ZM2234.8 326.6L2239.5 320.8L2246.5 315.0L2245.3 308.0L2259.3 315.0L2268.6 320.8L2275.5 325.4L2280.2 328.9L2284.8 335.9L2291.8 345.2L2297.6 351.0L2301.1 353.3L2304.6 358.0L2311.6 356.8L2315.1 358.0L2311.6 368.4L2303.5 374.3L2291.8 375.4L2284.8 380.1L2270.9 381.2L2267.4 383.6L2263.9 377.7L2258.1 368.4L2251.1 356.8L2244.2 345.2L2237.2 333.6Z"/>
<path fill="#75abc8" d="M2279.0 324.3L2282.5 323.1L2283.7 327.7L2280.2 328.9ZM2231.4 318.4L2236.0 313.8L2245.3 310.3L2246.5 315.0L2239.5 320.8L2234.8 326.6L2232.1 324.3Z"/>
<path fill="#d39a77" d="M2229.0 310.3L2231.8 309.1L2232.5 318.4L2232.1 324.3L2230.2 325.4L2229.5 317.3Z"/>
<path fill="#75abc8" d="M2301.1 353.3L2308.1 349.8L2315.1 344.0L2316.2 348.7L2311.6 356.8L2304.6 358.0ZM2315.1 344.0L2319.7 349.8L2326.7 354.5L2330.2 360.3L2326.7 367.3L2319.7 375.4L2312.8 381.2L2305.8 383.6L2303.5 374.3L2311.6 368.4L2315.1 358.0L2311.6 356.8L2316.2 348.7ZM2267.4 383.6L2270.9 381.2L2284.8 380.1L2291.8 375.4L2303.5 374.3L2305.8 383.6L2298.8 390.5L2289.5 394.0L2280.2 397.5L2270.9 402.2L2267.4 394.0Z"/>
<path fill="#ffffff" d="M2370.9 351.0L2373.2 347.5L2368.6 338.2L2373.2 331.2L2375.5 324.3L2381.4 318.4L2379.0 313.8L2384.8 308.0L2387.2 301.0L2391.8 301.0L2396.5 315.0L2405.8 324.3L2417.4 332.4L2431.4 337.0L2439.5 339.4L2440.7 333.6L2452.3 333.6L2456.9 328.9L2468.6 331.2L2472.1 334.7L2466.2 345.2L2459.3 354.5L2454.6 353.3L2455.8 360.3L2452.3 360.3L2446.5 360.3L2443.0 351.0L2440.7 340.5L2439.5 345.2L2441.8 360.3L2436.0 363.8L2429.0 373.1L2419.7 382.4L2413.9 389.4L2415.1 403.3L2412.8 415.0L2406.9 423.1L2402.3 417.3L2397.6 405.7L2391.8 394.0L2386.0 380.1L2382.5 368.4L2379.0 360.3L2373.2 361.5L2366.2 354.5Z"/>
<path fill="#75abc8" d="M2338.3 345.2L2341.8 335.9L2352.3 331.2L2361.6 324.3L2366.2 315.0L2362.8 308.0L2368.6 301.0L2387.2 301.0L2384.8 308.0L2379.0 313.8L2381.4 318.4L2375.5 324.3L2373.2 331.2L2368.6 338.2L2373.2 347.5L2370.9 351.0L2362.8 351.0L2356.9 345.2L2350.0 344.0Z"/>
<path fill="#d39a77" d="M2415.1 415.0L2419.7 416.1L2423.2 424.3L2422.1 431.2L2417.4 432.4L2415.1 425.4Z"/>
<path fill="#b95e2d" d="M2370.0 284.7L2371.1 280.1L2382.8 273.1L2389.7 268.4L2385.1 261.5L2389.7 256.8L2390.9 249.8L2399.0 247.5L2402.5 239.4L2408.3 242.9L2417.6 247.5L2420.0 254.5L2426.9 256.8L2436.2 260.3L2450.2 265.0L2464.2 267.3L2478.1 270.8L2487.4 268.4L2496.7 263.8L2499.0 259.1L2513.0 252.2L2524.6 248.7L2520.0 244.0L2503.7 242.9L2502.5 238.2L2509.5 231.2L2507.2 221.9L2515.3 219.6L2529.3 221.9L2538.6 231.2L2550.2 238.2L2561.8 244.0L2571.1 242.9L2570.0 249.8L2572.3 259.1L2568.8 266.1L2569.6 261.0L2566.9 268.0L2556.5 277.6L2548.6 282.8L2544.3 278.4L2540.8 275.8L2539.0 281.9L2533.8 284.5L2537.3 288.9L2544.3 289.8L2553.0 291.5L2547.8 295.9L2549.5 301.1L2554.7 308.1L2560.0 315.1L2565.2 321.2L2566.1 327.3L2563.5 334.3L2561.7 343.0L2556.5 350.0L2549.5 356.1L2540.8 358.7L2533.8 362.2L2528.6 363.9L2521.6 363.0L2514.6 360.4L2511.1 356.1L2505.9 356.1L2498.9 358.7L2493.7 361.3L2490.2 363.9L2485.0 357.8L2481.5 351.7L2478.0 346.5L2477.1 339.5L2472.8 332.5L2469.3 329.9L2465.8 328.2L2460.5 328.2L2453.6 334.3L2443.1 333.4L2437.9 334.3L2436.1 337.7L2429.2 336.0L2420.4 330.8L2413.5 327.3L2406.5 322.0L2399.5 318.6L2396.7 315.0L2399.0 308.0L2389.7 301.0L2378.1 294.0L2375.8 287.0Z"/>
<path fill="#75abc8" d="M2405.6 324.7L2410.0 322.9L2420.4 329.9L2429.2 334.3L2437.0 336.0L2437.9 340.4L2429.2 339.5L2418.7 336.0L2410.0 330.8ZM2440.5 334.3L2448.3 332.5L2452.7 335.1L2451.8 338.6L2443.1 338.6Z"/>
<path fill="#d39a77" d="M2439.6 340.4L2444.8 343.0L2451.8 345.6L2456.2 347.3L2455.3 351.7L2452.7 356.1L2451.0 359.5L2447.5 360.4L2444.0 356.1L2442.2 348.2Z"/>
<path fill="#b95e2d" d="M2524.2 371.8L2528.6 369.1L2532.9 370.9L2532.1 375.2L2527.7 377.0L2524.2 375.2Z"/>
<path fill="#d39a77" d="M2566.1 347.3L2569.6 345.6L2571.3 350.0L2569.6 357.8L2566.9 358.7L2565.2 353.4Z"/>
<path fill="#75abc8" d="M2556.5 277.6L2566.9 268.0L2571.3 270.6L2570.4 278.4L2572.2 285.4L2579.2 290.7L2582.6 297.6L2581.8 302.0L2575.7 303.7L2572.2 299.4L2569.6 293.3L2565.2 288.9L2560.8 287.2L2558.2 281.9Z"/>
<path fill="#d39a77" d="M2588.7 308.1L2591.4 303.7L2598.3 300.2L2605.3 298.5L2608.8 294.1L2611.4 285.4L2610.5 276.7L2613.2 273.2L2617.5 276.7L2621.0 283.7L2622.8 292.4L2625.4 297.6L2621.9 302.0L2617.5 301.1L2612.3 304.6L2607.1 307.2L2601.8 309.8L2598.3 308.1L2595.7 313.3L2596.6 317.7L2593.1 313.3L2589.6 311.6ZM2603.7 255.7L2608.3 254.5L2615.3 260.3L2623.5 259.1L2624.6 262.6L2617.6 267.3L2610.7 269.6L2606.0 263.8ZM2456.2 355.2L2459.7 348.2L2464.0 343.0L2465.8 336.0L2469.3 332.5L2472.8 333.4L2477.1 339.5L2478.0 346.5L2481.5 351.7L2485.0 357.8L2490.2 363.9L2487.6 367.4L2482.3 370.0L2481.5 377.9L2485.0 386.6L2486.7 393.6L2488.5 400.5L2489.3 407.5L2486.7 405.8L2485.0 397.0L2480.6 388.3L2476.2 383.1L2472.8 387.5L2469.3 385.7L2468.4 377.9L2464.9 369.1L2460.5 363.9Z"/>
<path fill="#1b699a" d="M2482.3 370.0L2487.6 367.7L2491.9 369.1L2494.6 376.1L2498.9 379.6L2504.2 377.9L2510.3 381.3L2513.7 388.3L2514.6 393.6L2507.6 395.3L2502.4 398.8L2500.7 402.3L2496.3 400.5L2493.7 398.8L2491.9 405.8L2490.2 412.7L2491.9 419.7L2497.2 426.7L2502.4 431.1L2498.9 433.7L2494.6 428.4L2490.2 423.2L2488.1 416.2L2488.5 407.5L2489.3 400.5L2486.7 393.6L2485.0 386.6L2481.5 377.9Z"/>
<path fill="#d39a77" d="M2490.2 363.9L2493.7 361.3L2498.9 358.7L2504.2 365.7L2508.5 366.5L2506.8 370.9L2512.9 377.9L2519.8 386.6L2521.6 393.6L2518.1 395.3L2514.6 393.6L2513.7 388.3L2510.3 381.3L2504.2 377.9L2498.9 379.6L2494.6 376.1L2491.9 369.1Z"/>
<path fill="#75abc8" d="M2502.4 398.8L2507.6 395.3L2514.6 393.6L2518.1 395.3L2522.5 394.4L2523.3 400.5L2518.1 407.5L2512.9 412.7L2508.5 409.3L2505.0 404.0Z"/>
<path fill="#ffffff" d="M2505.9 356.1L2511.1 356.1L2514.6 360.4L2518.1 363.9L2512.9 369.1L2514.6 376.1L2521.6 383.1L2528.6 391.8L2530.3 400.5L2528.6 407.5L2521.6 414.5L2515.5 419.7L2512.9 413.6L2518.1 407.5L2523.3 400.5L2522.5 394.4L2521.6 386.6L2512.9 377.9L2506.8 370.9L2508.5 366.5L2504.2 365.7L2498.9 358.7Z"/>
<path fill="#75abc8" d="M2571.3 376.1L2577.4 375.2L2579.2 381.3L2577.4 388.3L2580.9 395.3L2588.7 398.8L2586.1 400.5L2579.2 398.8L2573.9 393.6L2572.2 386.6L2570.4 381.3ZM2581.8 401.4L2587.9 400.5L2594.8 405.8L2595.7 412.7L2591.4 416.2L2587.0 412.7L2584.4 407.5ZM2587.9 418.0L2596.6 416.2L2601.0 421.5L2600.1 430.2L2594.8 433.7L2591.4 428.4L2587.9 425.0ZM2563.5 422.3L2567.8 416.2L2573.9 409.3L2574.8 410.7L2569.6 418.0L2565.2 423.6Z"/>
<path fill="none" d="M2260.5 234.0L2269.3 228.8L2276.2 227.0L2286.7 230.5L2297.2 230.5L2307.6 230.5L2304.2 220.1L2312.9 215.7L2328.6 211.3L2335.5 214.8L2344.3 218.3L2353.0 215.7L2363.5 221.8L2373.9 230.5L2384.4 230.5L2393.1 234.9L2401.8 239.3M2260.5 234.0L2263.2 242.7L2269.3 248.0L2266.7 255.0L2265.8 258.4M2402.5 239.4L2408.3 235.9L2422.3 232.4L2433.9 234.7L2435.1 227.7L2445.5 226.6L2457.2 232.4L2468.8 234.7L2482.8 238.2L2492.1 234.7L2501.4 234.7L2503.7 239.4M2298.9 255.0L2300.7 267.2L2311.1 265.4L2321.6 271.0"/>
<path fill="#1b699a" stroke="none" d="M2319.8 140.5L2330.2 135.9L2344.2 131.2L2360.5 126.6L2381.4 127.7L2397.7 130.1L2404.7 138.2L2414.0 147.5L2409.3 154.5L2414.0 166.1L2423.3 175.4L2434.9 180.1L2444.2 189.4L2451.2 196.3L2462.8 191.7L2474.4 194.0L2483.7 203.3L2484.9 215.0L2479.1 224.3L2469.8 234.7L2455.8 231.2L2444.2 228.9L2432.6 234.7L2420.9 231.2L2409.3 233.6L2400.0 227.7L2393.0 219.6L2390.7 212.6L2386.0 217.3L2381.4 226.6L2372.1 230.1L2362.8 221.9L2348.8 217.3L2339.5 210.3L2320.9 215.0L2307.0 215.0L2304.7 208.0L2311.6 203.3L2309.3 196.3L2302.3 189.4L2293.0 175.4L2309.3 175.4L2325.6 180.1L2339.5 182.4L2360.5 182.4L2355.8 173.1L2344.2 163.8L2334.9 156.8L2330.2 149.8L2323.3 145.2Z"/>
<path fill="#75abc8" stroke="none" d="M2341.9 191.7L2358.1 189.4L2376.7 194.0L2387.2 203.3L2381.4 208.0L2367.4 205.7L2348.8 205.7L2340.7 198.7Z"/>
<path fill="#ffffff" stroke="none" d="M2347.7 206.8L2362.8 205.7L2379.1 209.1L2380.2 217.3L2367.4 219.6L2353.5 217.3L2347.7 212.6Z"/>
<path fill="#1b699a" stroke="none" d="M2224.4 159.1L2237.2 163.8L2246.5 158.0L2260.5 156.8L2272.1 154.5L2283.7 155.7L2290.7 159.1L2286.0 168.4L2290.7 175.4L2283.7 184.7L2286.0 194.0L2283.7 205.7L2276.7 206.8L2269.8 198.7L2255.8 194.0L2248.8 187.0L2246.5 177.7L2241.9 173.1L2243.0 168.4L2232.6 166.1L2225.6 163.8ZM2210.5 188.2L2227.9 189.4L2246.5 190.5L2247.7 196.3L2227.9 197.5L2211.6 197.5ZM2323.3 115.0L2334.9 115.0L2348.8 120.8L2362.8 123.1L2360.5 125.4L2344.2 124.3L2330.2 120.8Z"/>
<path fill="#ffffff" stroke="none" d="M2209.3 170.8L2223.3 166.1L2241.9 173.1L2246.5 177.7L2248.8 187.0L2234.9 189.4L2210.5 188.2L2207.0 180.1ZM2246.5 196.3L2255.8 194.0L2269.8 198.7L2276.7 206.8L2269.8 212.6L2260.5 210.3L2248.8 205.7ZM2284.9 185.9L2297.7 189.4L2310.5 196.3L2311.6 203.3L2304.7 208.0L2293.0 210.3L2287.2 201.0Z"/>
<path fill="#d39a77" stroke="none" d="M2238.4 203.3L2251.2 201.0L2258.1 206.8L2255.8 215.0L2244.2 217.3L2237.2 212.6Z"/>
<path fill="#ffffff" stroke="none" d="M2230.2 217.3L2246.5 218.4L2265.1 221.9L2269.8 231.2L2260.5 234.7L2246.5 231.2L2234.9 226.6Z"/>
<path fill="#1b699a" stroke="none" d="M2240.7 232.4L2251.2 231.2L2260.5 235.9L2262.8 245.2L2258.1 252.2L2264.0 259.1L2255.8 263.8L2245.3 261.5L2244.2 252.2L2250.0 245.2L2244.2 238.2Z"/>
<path fill="#ffffff" stroke="none" d="M2200.0 198.7L2214.0 198.7L2227.9 203.3L2223.3 210.3L2209.3 212.6L2200.0 210.3Z"/>
<path fill="#d39a77" stroke="none" d="M2200.0 189.4L2210.5 188.9L2210.5 196.3L2200.0 196.3Z"/>
<path fill="#ffffff" stroke="none" d="M2276.7 215.0L2288.4 210.3L2300.0 221.9L2293.0 228.9L2281.4 224.3ZM2242.2 145.1L2245.7 136.3L2253.6 131.1L2264.0 127.6L2276.2 126.8L2278.0 128.5L2269.3 130.2L2260.5 133.7L2255.3 138.1L2252.7 143.3L2255.3 147.7L2260.5 149.4L2255.3 150.3L2248.3 149.4L2244.0 147.7ZM2469.8 231.7L2477.2 227.0L2483.7 223.3L2481.9 218.7L2486.5 215.9L2480.0 205.7L2483.7 200.1L2492.1 207.5L2499.5 210.3L2505.1 216.8L2507.0 220.1L2505.1 223.3L2507.9 227.0L2509.3 234.5L2505.1 236.3L2501.4 237.3L2492.1 234.5L2483.7 237.3L2475.3 237.3ZM2544.9 176.6L2560.0 168.4L2571.6 167.3L2590.2 173.1L2604.2 182.4L2608.8 191.7L2590.2 195.2L2571.6 194.0L2560.0 192.9L2553.0 184.7Z"/>
<path fill="#1b699a" stroke="none" d="M2524.0 196.3L2535.6 183.6L2557.7 185.9L2562.3 194.0L2553.0 201.0L2549.5 210.3L2553.0 217.3L2541.4 220.8L2536.7 212.6L2529.8 205.7ZM2547.2 230.1L2555.3 219.6L2574.0 218.4L2579.8 227.7L2586.7 240.5L2578.6 247.5L2569.3 242.9L2560.0 238.2L2551.9 235.9Z"/>
<path fill="#ffffff" stroke="none" d="M2571.6 249.8L2586.7 240.5L2585.6 261.5L2578.6 267.3L2571.6 263.8ZM2581.6 217.3L2585.1 221.9L2592.1 233.6L2599.0 242.9L2606.0 249.8L2601.4 249.8L2594.4 242.9L2587.4 233.6L2581.6 224.3ZM2449.3 268.9L2454.0 267.0L2463.3 268.0L2479.1 272.2L2486.5 268.0L2494.0 267.0L2498.6 262.4L2496.7 259.6L2504.2 255.0L2510.7 252.2L2520.0 248.4L2514.4 244.7L2507.0 244.7L2502.3 241.0L2501.4 237.3L2505.1 236.3L2509.3 234.5L2507.9 227.0L2505.1 223.3L2504.2 221.0L2508.8 220.1L2511.6 224.3L2518.1 228.0L2527.4 229.8L2531.2 232.6L2532.1 240.1L2529.3 245.7L2533.0 249.4L2534.0 254.0L2536.7 259.6L2542.3 263.3L2543.3 267.0L2537.7 269.8L2531.2 271.7L2523.7 269.8L2514.4 272.6L2510.7 279.1L2503.3 283.8L2501.4 288.4L2492.1 289.4L2488.4 283.8L2481.9 288.4L2480.0 283.8L2470.7 282.9L2463.3 277.3L2456.7 273.6ZM2533.0 283.8L2538.6 280.1L2542.3 277.3L2545.1 283.8L2549.8 281.9L2554.4 283.8L2559.1 287.5L2551.6 291.2L2542.3 289.4L2535.8 287.5Z"/>
<path fill="#1b699a" stroke="none" d="M2375.5 303.3L2389.5 303.3L2396.5 310.3L2387.2 312.6L2377.9 310.3ZM2569.3 291.7L2576.3 290.5L2581.4 297.5L2579.8 304.5L2574.0 306.1L2569.8 301.0Z"/>
<path fill="#ffffff" stroke="none" d="M2572.8 295.9L2577.4 295.9L2578.1 301.0L2574.0 302.2Z"/>
<path fill="#d39a77" stroke="none" d="M2567.0 284.7L2572.8 287.0L2574.0 293.6L2568.8 292.2Z"/>
<path fill="#75abc8" stroke="none" d="M2608.8 273.1L2614.7 275.4L2620.5 284.7L2619.3 291.7L2613.5 290.5L2610.7 282.4Z"/>
<path fill="#ffffff" stroke="none" d="M2599.5 298.7L2608.8 297.5L2611.2 303.3L2603.0 305.7Z"/>
<path fill="#b95e2d" stroke="none" d="M2587.9 303.3L2599.5 299.8L2601.9 305.7L2597.2 318.4L2591.4 316.1L2589.1 309.1Z"/>
<path fill="#75abc8" stroke="none" d="M2597.7 305.7L2606.0 303.8L2607.0 308.4L2599.5 310.8Z"/>
<path fill="#d39a77" stroke="none" d="M2237.2 326.6L2245.3 317.3L2259.3 318.4L2270.9 326.6L2279.0 335.9L2282.5 345.2L2284.8 359.1L2283.7 377.7L2270.9 381.2L2267.4 383.6L2263.9 377.7L2258.1 368.4L2251.1 356.8L2244.2 345.2Z"/>
<path fill="#75abc8" stroke="none" d="M2250.0 355.7L2261.6 354.5L2266.2 363.8L2256.9 368.4ZM2239.5 331.2L2250.0 333.6L2248.8 340.5L2241.8 338.2Z"/>
<path fill="#ffffff" stroke="none" d="M2219.7 346.3L2227.9 345.2L2227.9 359.1L2220.9 359.1Z"/>
<path fill="#75abc8" stroke="none" d="M2382.5 366.1L2391.8 362.6L2410.4 363.8L2412.8 370.8L2408.1 377.7L2401.1 380.1L2394.2 383.6L2389.5 387.0L2386.0 380.1Z"/>
<path fill="#1b699a" stroke="none" d="M2389.5 387.0L2394.2 383.6L2401.1 380.1L2402.3 387.0L2409.3 388.2L2418.6 382.4L2426.7 375.4L2431.4 370.8L2433.7 373.1L2422.1 384.7L2416.2 389.4L2413.9 398.7L2415.1 408.0L2411.6 417.3L2405.8 423.1L2401.1 417.3L2396.5 405.7L2391.8 394.0Z"/>
<path fill="#ffffff" stroke="none" d="M2402.3 373.1L2410.4 370.8L2416.2 377.7L2411.6 383.6L2403.5 387.0L2401.6 380.1Z"/>
<path fill="#b95e2d" stroke="none" d="M2412.8 361.5L2418.6 353.3L2424.4 356.8L2422.1 366.1L2419.7 375.4L2413.9 377.7L2411.6 370.8Z"/>
<path fill="#75abc8" stroke="none" d="M2422.1 366.1L2429.0 359.1L2436.0 363.8L2433.7 370.8L2426.7 375.4L2419.7 377.7Z"/>
<path fill="#1b699a" stroke="none" d="M2422.1 351.0L2436.0 346.3L2439.5 351.0L2431.4 358.0L2424.4 356.8Z"/>
<path fill="#d39a77" stroke="none" d="M2445.3 333.6L2456.9 328.9L2468.6 331.2L2472.1 334.7L2466.2 345.2L2459.3 354.5L2454.6 353.3L2455.8 347.5L2450.0 342.9Z"/>
<path fill="#b95e2d" stroke="none" d="M2443.0 345.2L2450.0 344.0L2453.5 351.0L2447.6 354.5Z"/>
<path fill="#75abc8" stroke="none" d="M2468.6 335.9L2477.9 338.2L2480.2 354.5L2475.5 368.4L2470.9 370.8L2466.2 359.1L2467.4 345.2Z"/>
<path fill="#b95e2d" stroke="none" d="M2456.9 354.5L2463.9 361.5L2470.9 373.1L2475.5 384.7L2472.1 387.0L2466.2 375.4L2459.3 363.8Z"/>
<path fill="#1b699a" stroke="none" d="M2475.5 368.4L2484.8 363.8L2491.8 370.8L2489.5 380.1L2480.2 382.4Z"/>
<path fill="#75abc8" stroke="none" d="M2491.8 384.7L2503.5 382.4L2511.6 387.0L2510.4 394.0L2501.1 395.2L2494.2 391.7Z"/>
<path fill="#ffffff" stroke="none" d="M2493.0 390.5L2498.8 389.4L2500.0 396.3L2494.2 397.5Z"/>
<path fill="#75abc8" stroke="none" d="M2488.3 417.3L2494.2 416.1L2498.8 426.6L2502.3 435.9L2497.6 434.7L2491.8 426.6Z"/>
<path fill="#d39a77" stroke="none" d="M2501.1 359.1L2512.8 356.8L2515.1 366.1L2508.1 370.8L2502.3 368.4Z"/>
<path fill="#ffffff" d="M2047.4 335.4L2048.6 334.9L2054.4 331.4L2059.1 326.7L2060.3 320.9L2063.8 314.0L2068.3 308.0L2074.3 303.3L2076.5 297.6L2082.3 299.8L2089.3 302.3L2090.5 302.3L2089.3 311.5L2084.7 316.2L2080.0 319.7L2075.3 324.4L2068.3 327.9L2063.8 334.9ZM2134.8 319.7L2141.8 311.5L2147.5 312.7L2155.7 317.5L2162.7 320.9L2169.7 322.7L2175.6 317.5L2182.6 315.7L2191.8 316.2L2193.9 328.4L2194.8 368.6L2191.3 370.3L2157.3 354.6L2153.8 357.2L2144.2 353.7L2139.8 349.4L2134.6 340.7L2133.7 328.4Z"/>
<path fill="#75abc8" d="M2064.0 334.5L2068.3 327.9L2075.3 324.4L2080.0 319.7L2084.7 316.2L2089.3 311.5L2090.5 302.3L2095.2 297.6L2101.0 295.3L2112.6 293.6L2124.3 292.3L2129.0 292.9L2126.6 305.8L2130.1 313.8L2134.8 319.7L2133.7 328.4L2134.6 340.7L2139.8 349.4L2144.2 353.7L2125.9 368.6L2114.6 376.4L2110.2 371.2L2092.8 358.1L2077.1 348.5L2071.8 346.8L2071.8 341.5L2064.0 337.2ZM2129.0 292.9L2138.3 292.3L2139.5 297.6L2137.1 301.1L2139.5 305.8L2140.5 310.5L2137.1 316.2L2134.8 319.7L2130.1 313.8L2126.6 305.8Z"/>
<path fill="#1b699a" d="M2047.4 335.4L2064.0 334.5L2064.0 342.4L2051.8 343.3L2047.4 352.9L2046.5 362.5L2030.8 363.3L2034.3 354.6L2038.7 345.9L2043.0 339.8ZM2030.8 363.3L2046.5 362.5L2047.4 352.9L2051.8 343.3L2064.0 342.4L2064.0 337.2L2071.8 341.5L2071.8 346.8L2075.3 387.7L2053.5 389.5L2050.9 392.1L2045.7 387.7L2038.7 384.3L2032.6 386.0L2033.5 377.3L2034.3 368.6Z"/>
<path fill="#75abc8" d="M2032.6 386.0L2038.7 384.3L2045.7 387.7L2050.9 392.1L2051.8 401.7L2043.0 403.4L2039.6 411.3L2043.9 417.4L2047.4 415.7L2054.4 415.7L2058.7 420.9L2061.4 427.0L2064.8 424.4L2066.6 431.3L2067.5 439.2L2061.4 435.7L2054.4 429.6L2046.5 424.4L2044.8 418.3L2038.7 412.2L2033.5 406.9L2030.8 400.0L2029.1 393.0Z"/>
<path fill="#1b699a" d="M2071.8 346.8L2077.1 348.5L2092.8 358.1L2110.2 371.2L2114.6 376.4L2113.7 384.3L2110.2 388.6L2100.6 391.2L2098.0 394.7L2103.2 400.0L2106.7 404.3L2105.0 408.7L2098.0 409.5L2087.5 410.4L2080.5 415.7L2066.6 413.9L2064.8 424.4L2061.4 427.0L2058.7 420.9L2054.4 415.7L2047.4 415.7L2043.9 417.4L2039.6 411.3L2043.0 403.4L2051.8 401.7L2050.9 392.1L2053.5 389.5L2075.3 387.7Z"/>
<path fill="#d39a77" d="M2066.6 413.9L2080.5 415.7L2086.7 411.3L2098.0 410.1L2103.2 412.2L2104.1 431.3L2101.5 432.2L2092.8 435.7L2084.9 435.7L2077.1 436.6L2068.3 438.3L2066.6 431.3L2064.8 424.4Z"/>
<path fill="#ffffff" d="M2103.2 412.2L2106.7 405.2L2111.1 408.7L2108.5 419.1L2108.5 430.5L2104.1 431.3ZM2114.6 376.4L2125.9 368.6L2144.2 353.7L2157.3 357.2L2159.0 370.3L2157.3 387.7L2152.1 394.7L2152.1 400.0L2145.1 398.2L2134.6 401.7L2124.2 398.2L2114.6 399.1L2111.1 408.7L2106.7 404.3L2103.2 400.0L2098.0 394.7L2100.6 391.2L2110.2 388.6L2113.7 384.3Z"/>
<path fill="#d39a77" d="M2111.1 408.7L2114.6 399.1L2124.2 398.2L2134.6 401.7L2145.1 398.2L2152.1 400.0L2153.8 406.9L2149.4 413.9L2144.2 422.6L2139.8 428.7L2132.9 433.1L2131.1 438.3L2122.4 439.2L2117.2 433.1L2108.5 430.5L2108.5 419.1Z"/>
<path fill="#75abc8" d="M2191.8 316.2L2201.1 318.5L2210.5 318.0L2219.7 317.5L2227.9 319.7L2230.2 323.2L2230.5 330.2L2226.2 328.4L2230.5 338.9L2234.9 349.4L2238.4 357.2L2237.5 359.8L2194.8 359.8L2193.9 328.4Z"/>
<path fill="#1b699a" d="M2157.3 354.6L2191.3 370.3L2192.2 387.7L2187.8 389.5L2184.3 401.7L2186.9 408.7L2180.0 413.9L2173.0 419.1L2164.3 424.4L2159.0 422.6L2153.8 413.9L2157.3 405.2L2152.1 400.0L2152.1 394.7L2157.3 387.7L2159.0 370.3Z"/>
<path fill="#d39a77" d="M2194.8 359.8L2237.5 359.8L2241.0 360.7L2242.8 370.3L2246.2 377.3L2248.0 380.8L2243.6 386.0L2241.9 394.7L2239.3 403.4L2235.8 410.4L2231.4 413.9L2227.9 406.1L2223.6 408.7L2218.3 413.9L2211.4 416.5L2204.4 415.7L2199.2 413.9L2193.9 419.1L2190.4 413.9L2186.9 408.7L2184.3 401.7L2187.8 389.5L2192.2 387.7L2191.3 370.3L2194.8 368.6Z"/>
<path fill="#75abc8" d="M2243.6 386.0L2248.0 380.8L2251.5 384.3L2256.7 391.2L2263.7 398.2L2268.9 405.2L2268.9 409.5L2264.6 410.4L2266.3 407.8L2260.2 401.7L2253.2 394.7L2246.2 393.8L2241.9 394.7Z"/>
<path fill="#ffffff" d="M2193.9 419.1L2199.2 413.9L2204.4 415.7L2211.4 416.5L2218.3 413.9L2223.6 408.7L2227.9 406.1L2231.4 413.9L2233.2 419.1L2230.5 422.6L2234.9 429.6L2237.5 435.7L2232.3 440.9L2223.6 442.7L2218.3 440.1L2211.4 439.2L2206.1 433.1L2200.9 426.1ZM2235.8 410.4L2239.3 403.4L2241.9 394.7L2246.2 393.8L2253.2 394.7L2260.2 401.7L2266.3 407.8L2264.6 410.4L2268.9 413.9L2275.9 420.9L2288.1 424.4L2279.4 433.1L2270.7 440.1L2260.2 441.8L2253.2 443.6L2244.5 440.1L2237.5 435.7L2234.9 429.6L2230.5 422.6L2233.2 419.1L2231.4 413.9Z"/>
<path fill="#75abc8" d="M2268.9 409.5L2275.9 413.9L2286.4 410.4L2298.6 406.1L2300.3 412.2L2295.1 424.4L2288.1 436.6L2277.6 448.8L2268.9 459.3L2262.8 464.5L2261.1 455.8L2261.1 447.0L2270.7 440.1L2279.4 433.1L2288.1 424.4L2275.9 420.9L2268.9 413.9ZM2237.5 435.7L2244.5 440.1L2253.2 443.6L2260.2 441.8L2261.9 445.3L2261.1 455.8L2262.8 464.5L2258.5 471.5L2254.1 479.3L2244.5 471.5L2234.9 464.5L2236.7 455.8L2237.5 448.8L2233.2 441.8Z"/>
<path fill="#ffffff" d="M2164.3 424.4L2173.0 419.1L2180.0 413.9L2186.9 410.4L2190.4 413.9L2193.9 419.1L2200.9 426.1L2206.1 433.1L2204.4 436.6L2193.9 435.7L2186.9 438.3L2176.5 437.5L2171.2 443.6L2162.5 446.2L2157.3 438.3L2155.5 431.3L2159.0 424.4Z"/>
<path fill="#d39a77" d="M2153.8 406.9L2157.3 405.2L2153.8 413.9L2159.0 422.6L2157.3 429.6L2155.5 431.3L2157.3 438.3L2162.5 446.2L2160.8 450.5L2150.3 449.7L2138.1 449.7L2136.4 443.6L2132.9 436.6L2134.6 431.3L2139.8 428.7L2144.2 422.6L2149.4 413.9ZM2152.1 449.7L2160.8 450.5L2163.4 446.2L2171.2 443.6L2176.5 437.5L2186.9 438.3L2193.9 435.7L2204.4 436.6L2211.4 439.2L2218.3 440.1L2223.6 442.7L2232.3 440.9L2237.5 448.8L2236.7 455.8L2234.9 464.5L2244.5 471.5L2254.1 479.3L2254.0 479.7L2255.7 493.7L2257.5 505.9L2258.3 514.6L2258.3 525.1L2251.4 535.5L2240.9 542.5L2233.9 551.2L2235.7 558.2L2235.7 566.9L2231.3 572.2L2224.3 575.7L2223.5 582.6L2216.5 594.8L2209.5 604.4L2199.0 610.5L2188.6 613.2L2179.8 614.0L2171.1 615.8L2166.8 610.5L2165.9 601.8L2162.4 591.3L2162.4 587.9L2169.4 590.5L2174.6 587.9L2175.5 560.0L2179.0 556.5L2179.8 542.2L2192.1 541.1L2197.3 539.9L2188.6 539.0L2187.7 538.2L2184.2 532.0L2185.1 518.1L2191.2 518.1L2192.1 510.2L2185.1 509.4L2184.2 492.8L2178.1 491.1L2174.6 493.7L2166.8 494.5L2164.2 486.7L2146.7 486.7L2145.8 481.5L2143.2 476.2L2146.8 481.1L2145.1 476.7L2143.3 475.8L2146.8 469.7L2153.8 468.0L2155.5 461.0L2152.1 455.8Z"/>
<path fill="none" d="M2185.1 509.4L2192.1 510.2L2199.0 512.9L2204.3 513.7L2211.2 518.1L2214.7 519.0L2213.0 514.6L2210.4 511.1L2210.4 502.4L2213.0 498.0L2218.2 497.2L2223.5 498.9L2227.8 504.1L2229.6 503.3M2226.1 534.7L2218.2 528.6L2223.5 525.1L2228.7 523.3M2235.7 512.9L2244.4 512.0L2258.3 506.8M2179.8 542.2L2179.0 556.5L2175.5 560.0L2176.4 572.2L2178.1 580.0L2185.1 577.4L2188.6 573.9L2197.3 572.2L2204.3 565.2L2211.2 560.0L2219.1 560.8L2221.7 568.7L2222.6 575.7L2224.3 575.7M2216.5 578.3L2219.1 576.5L2221.7 578.3L2221.7 581.8L2218.6 583.0L2216.5 581.2L2216.5 578.3M2213.0 481.5L2214.7 488.4L2217.3 495.4L2218.2 497.2M2223.6 442.7L2221.8 450.5L2216.6 459.3L2218.3 464.5L2224.4 464.5L2227.9 461.9L2234.9 464.5M2171.2 443.6L2170.4 450.5L2167.8 459.3L2164.3 464.5L2159.0 475.0L2153.8 480.2L2148.6 481.1M2086.7 411.3L2086.7 422.6L2084.9 435.7M2098.9 410.1L2100.1 419.1L2101.5 432.2"/>
<path fill="#b95e2d" d="M2136.4 450.5L2150.3 449.7L2152.1 455.8L2155.5 461.0L2153.8 468.0L2146.8 469.7L2143.3 475.8L2138.1 469.7L2133.7 462.7L2135.5 455.8Z"/>
<path fill="#75abc8" d="M2146.7 486.7L2164.2 486.7L2166.8 494.5L2174.6 493.7L2178.1 491.1L2184.2 492.8L2185.1 509.4L2192.1 510.2L2191.2 518.1L2185.1 518.1L2184.2 532.0L2187.7 538.2L2179.8 539.9L2165.9 538.2L2150.2 536.9L2144.1 537.3L2145.0 528.6L2150.2 518.1L2151.1 507.6L2149.3 497.2ZM2141.5 478.0L2145.0 477.1L2145.8 481.5L2142.9 482.3ZM2144.1 537.3L2150.2 536.9L2165.9 538.2L2179.8 539.9L2188.6 539.0L2197.3 539.9L2192.1 541.1L2179.8 542.2L2179.0 556.5L2175.5 560.0L2174.6 587.9L2169.4 590.5L2162.4 587.9L2158.0 579.1L2154.6 566.9L2150.2 553.0L2145.8 544.3ZM2198.2 540.8L2206.0 537.3L2213.0 531.2L2220.0 531.2L2226.1 534.7L2227.8 540.8L2226.1 547.7L2223.5 556.5L2219.1 560.8L2211.2 560.0L2206.0 554.7L2201.7 547.7Z"/>
<path fill="#1b699a" d="M2229.6 503.3L2233.9 504.1L2235.7 512.9L2236.5 519.8L2239.2 526.8L2237.4 533.8L2233.9 532.0L2233.0 525.1L2228.7 523.3L2227.8 518.1L2229.6 511.1Z"/>
<path fill="#75abc8" d="M2201.7 592.2L2206.0 588.7L2209.5 591.3L2208.6 595.7L2204.3 597.5Z"/>
<path fill="#ffffff" d="M2214.8 466.2L2220.1 465.4L2221.0 473.2L2219.2 479.3L2214.8 478.4ZM2224.4 460.1L2232.3 459.3L2233.7 466.2L2228.8 470.6L2225.0 468.0Z"/>
<path fill="#d39a77" d="M2293.2 513.7L2295.8 518.1L2296.7 526.8L2294.1 532.0L2292.3 540.8L2288.0 553.0L2282.8 565.2L2279.3 572.2L2273.2 575.7L2267.9 570.4L2266.2 560.0L2269.7 549.5L2271.4 539.0L2274.9 532.0L2282.8 526.8L2288.0 521.6Z"/>
<path fill="#b95e2d" stroke="none" d="M2192.2 318.0L2211.4 317.1L2214.8 321.5L2209.6 328.4L2200.9 333.7L2193.9 333.7Z"/>
<path fill="#ffffff" stroke="none" d="M2220.1 345.9L2227.1 345.0L2227.9 359.8L2220.1 359.8Z"/>
<path fill="#1b699a" stroke="none" d="M2071.8 343.3L2092.8 358.1L2110.2 371.2L2114.6 376.4L2119.8 384.3L2123.3 393.0L2120.7 401.7L2117.2 405.2L2113.7 398.2L2110.2 390.4L2077.1 388.6L2075.3 387.7L2071.8 346.8Z"/>
<path fill="#ffffff" stroke="none" d="M2071.8 356.3L2075.3 388.6L2061.4 388.6L2063.1 380.8L2066.6 370.3ZM2035.2 365.1L2041.3 365.1L2041.3 374.7L2035.2 374.7Z"/>
<path fill="#75abc8" stroke="none" d="M2045.7 384.3L2061.4 381.6L2062.2 388.6L2053.5 389.5L2050.9 392.1Z"/>
<path fill="#d39a77" stroke="none" d="M2124.2 391.2L2134.6 386.0L2145.1 380.8L2157.3 379.0L2153.8 387.7L2148.6 396.5L2141.6 400.0L2131.1 398.2L2124.2 396.5Z"/>
<path fill="#75abc8" stroke="none" d="M2151.2 380.8L2158.2 379.9L2157.3 387.7L2152.1 394.7Z"/>
<path fill="#b95e2d" stroke="none" d="M2167.8 393.0L2171.2 389.5L2186.9 388.6L2184.3 401.7L2186.9 408.7L2180.0 413.9L2173.0 419.1L2166.0 422.6L2165.1 408.7Z"/>
<path fill="#75abc8" stroke="none" d="M2200.9 415.7L2207.9 417.4L2204.4 422.6ZM2211.4 426.1L2223.6 429.6L2225.3 438.3L2214.8 440.1L2209.6 433.1Z"/>
<path fill="#d39a77" stroke="none" d="M2235.8 410.4L2239.3 403.4L2241.9 394.7L2253.2 394.7L2260.2 401.7L2263.7 410.4L2261.9 419.1L2263.7 429.6L2256.7 440.1L2246.2 441.8L2237.5 435.7L2234.9 429.6L2230.5 422.6L2233.2 419.1L2231.4 413.9Z"/>
<path fill="#75abc8" stroke="none" d="M2263.7 410.4L2268.9 413.9L2275.9 420.9L2288.1 424.4L2279.4 433.1L2270.7 440.1L2260.2 441.8L2256.7 440.1L2263.7 429.6L2261.9 419.1ZM2237.5 422.6L2246.2 420.9L2249.7 429.6L2244.5 436.6L2238.4 433.1Z"/>
<path fill="#d39a77" stroke="none" d="M2253.2 443.6L2260.2 441.8L2261.9 445.3L2261.1 455.8L2256.7 459.3L2254.1 450.5Z"/>
<path fill="#ffffff" stroke="none" d="M2251.5 461.0L2256.7 462.7L2255.8 473.2L2252.3 471.5Z"/>
<path fill="#1b699a" stroke="none" d="M2240.1 461.0L2246.2 460.1L2247.1 466.2L2241.9 467.1Z"/>
<path fill="#b95e2d" stroke="none" d="M2220.1 459.3L2223.6 458.4L2225.3 468.0L2221.8 478.4L2218.3 476.7L2220.1 468.0ZM2113.7 401.7L2124.2 400.0L2141.6 401.7L2145.1 408.7L2138.1 412.2L2127.6 408.7L2117.2 410.4Z"/>
<path fill="#ffffff" stroke="none" d="M2149.4 400.0L2153.8 401.7L2152.1 412.2L2147.7 413.9Z"/>
<path fill="#1b699a" stroke="none" d="M2117.2 424.4L2124.2 422.6L2127.6 431.3L2120.7 436.6ZM2127.6 429.6L2134.6 427.9L2133.7 434.8L2128.5 436.6Z"/>
<path fill="#75abc8" stroke="none" d="M2131.1 410.4L2139.8 408.7L2141.6 415.7L2134.6 417.4Z"/>
<path fill="#ffffff" stroke="none" d="M2105.0 408.7L2110.2 406.1L2111.1 415.7L2106.7 417.4Z"/>
<path fill="#1b699a" stroke="none" d="M2135.5 436.6L2141.6 431.3L2148.6 433.1L2149.4 441.8L2143.3 445.3L2136.4 443.6Z"/>
<path fill="#b95e2d" stroke="none" d="M2152.1 408.7L2157.3 413.9L2159.0 422.6L2153.8 426.1L2148.6 419.1Z"/>
<path fill="#ffffff" stroke="none" d="M2159.0 415.7L2166.0 413.9L2166.0 424.4L2159.0 424.4Z"/>
<path fill="#75abc8" stroke="none" d="M2173.0 419.1L2180.0 413.9L2186.9 410.4L2190.4 413.9L2193.9 419.1L2195.7 429.6L2186.9 436.6L2180.0 434.8L2174.7 429.6Z"/>
<path fill="#d39a77" stroke="none" d="M2193.9 419.1L2200.9 426.1L2206.1 433.1L2204.4 436.6L2193.9 435.7L2186.9 438.3L2186.9 436.6L2195.7 429.6Z"/>
<path fill="#b95e2d" stroke="none" d="M2171.2 424.4L2174.7 426.1L2174.7 436.6L2171.2 440.1ZM2152.1 449.7L2159.0 450.5L2166.0 443.6L2169.5 445.3L2168.6 455.8L2164.3 464.5L2159.0 475.0L2153.8 480.2L2146.8 481.1L2145.1 476.7L2143.3 475.8L2146.8 469.7L2153.8 468.0L2155.5 461.0L2152.1 455.8Z"/>
<path fill="#d39a77" stroke="none" d="M2148.6 462.7L2153.8 461.0L2153.8 468.0L2149.4 468.8Z"/>
<path fill="#1b699a" stroke="none" d="M2132.9 462.7L2138.1 468.0L2139.8 473.2L2136.4 471.5Z"/>
<path fill="#75abc8" stroke="none" d="M2164.3 468.0L2173.0 464.5L2181.7 471.5L2186.9 478.4L2185.2 491.0L2164.3 491.0Z"/>
<path fill="#ffffff" stroke="none" d="M2029.1 387.7L2038.7 385.1L2045.7 387.7L2047.4 393.0L2042.2 394.7L2035.2 393.8L2030.0 393.0Z"/>
<path fill="#b95e2d" stroke="none" d="M2035.2 396.5L2045.7 394.7L2050.9 398.2L2050.0 403.4L2038.7 403.4Z"/>
<path fill="#75abc8" stroke="none" d="M2036.9 405.2L2054.4 403.4L2063.1 406.1L2064.8 415.7L2057.9 420.9L2050.9 415.7L2043.9 415.7L2039.6 411.3Z"/>
<path fill="#1b699a" stroke="none" d="M2045.7 410.4L2052.6 409.5L2053.5 415.7L2046.5 416.5Z"/>
<path fill="#d39a77" stroke="none" d="M2057.0 406.1L2062.2 405.2L2064.0 415.7L2059.6 420.0L2056.5 413.9Z"/>
<path fill="#ffffff" stroke="none" d="M2054.4 422.6L2061.4 424.4L2064.8 433.1L2059.6 433.1Z"/>
<path fill="#75abc8" stroke="none" d="M2066.6 413.9L2080.5 415.7L2082.3 410.4L2077.1 408.7L2068.3 410.4Z"/>
<path fill="#ffffff" stroke="none" d="M2074.4 419.1L2080.5 418.3L2080.5 424.4L2075.3 424.4Z"/>
<path fill="#b95e2d" stroke="none" d="M2075.3 426.1L2084.0 422.6L2086.7 433.1L2078.8 435.7ZM2084.9 411.3L2098.0 410.1L2099.7 419.1L2098.9 429.6L2092.8 435.7L2087.5 435.7L2084.9 426.1Z"/>
<path fill="#d39a77" stroke="none" d="M2089.3 427.9L2096.2 427.0L2097.1 433.1L2091.0 434.8Z"/>
<path fill="#75abc8" stroke="none" d="M2077.1 388.6L2098.0 393.0L2103.2 400.0L2106.7 404.3L2105.0 408.7L2098.0 409.5L2087.5 410.4L2080.5 406.1L2077.1 401.7Z"/>
<path fill="#1b699a" stroke="none" d="M2077.1 391.2L2085.8 392.1L2086.7 400.0L2078.8 400.8Z"/>
<path fill="#d39a77" stroke="none" d="M2089.3 394.7L2098.0 396.5L2101.5 405.2L2094.5 406.9Z"/>
<path fill="#75abc8" stroke="none" d="M2098.9 410.1L2103.2 412.2L2104.1 431.3L2101.5 432.2ZM2164.2 471.0L2185.1 471.0L2188.6 481.5L2192.1 493.7L2199.0 488.4L2211.2 483.2L2214.7 488.4L2217.3 495.4L2211.2 498.9L2209.5 509.4L2204.3 512.9L2192.1 510.2L2185.1 509.4L2184.2 492.8L2178.1 491.1L2174.6 493.7L2166.8 494.5L2164.2 486.7Z"/>
<path fill="#b95e2d" stroke="none" d="M2185.1 518.1L2192.1 510.2L2204.3 512.9L2211.2 518.1L2204.3 523.3L2197.3 526.8L2197.3 537.3L2188.6 539.0L2184.2 532.0Z"/>
<path fill="#75abc8" stroke="none" d="M2204.3 523.3L2211.2 518.1L2221.7 521.6L2216.5 526.8L2209.5 528.6L2199.0 530.3Z"/>
<path fill="#b95e2d" stroke="none" d="M2216.5 526.8L2225.2 523.3L2232.2 528.6L2226.9 535.5L2220.0 532.0Z"/>
<path fill="#ffffff" stroke="none" d="M2144.1 538.2L2157.2 538.2L2162.4 546.0L2158.9 553.0L2150.2 553.8L2145.8 544.3Z"/>
<path fill="#b95e2d" stroke="none" d="M2151.1 555.6L2159.8 553.8L2160.7 561.7L2157.2 566.9L2152.8 563.4Z"/>
<path fill="#ffffff" stroke="none" d="M2153.7 566.9L2162.4 565.2L2172.9 566.9L2173.7 575.7L2160.7 575.7L2155.4 573.9Z"/>
<path fill="#d39a77" stroke="none" d="M2155.4 575.7L2173.7 575.7L2174.6 587.9L2169.4 590.5L2162.4 587.9L2158.0 579.1Z"/>
<path fill="#1b699a" stroke="none" d="M2168.5 539.9L2179.8 539.9L2188.6 539.0L2197.3 540.4L2195.5 545.1L2190.3 543.4L2179.8 542.5L2171.1 545.1Z"/>
<path fill="#b95e2d" stroke="none" d="M2169.4 553.0L2179.8 552.1L2190.3 555.6L2195.5 565.2L2181.6 566.1L2174.6 565.2L2168.5 561.7Z"/>
<path fill="#75abc8" stroke="none" d="M2179.8 542.2L2192.1 541.1L2197.3 547.7L2195.5 553.0L2190.3 555.6L2179.8 552.1Z"/>
<path fill="#ffffff" stroke="none" d="M2197.3 540.8L2206.0 539.0L2211.2 546.0L2209.5 551.2L2202.5 549.5ZM2215.6 532.9L2225.2 533.8L2224.3 542.5L2219.1 546.0L2217.3 540.8Z"/>
<path fill="#1b699a" stroke="none" d="M2204.3 553.0L2211.2 549.5L2216.5 547.7L2222.6 549.5L2223.5 556.5L2219.1 560.8L2211.2 560.0L2206.0 556.5Z"/>
<path fill="#75abc8" stroke="none" d="M2223.5 540.8L2232.2 535.5L2237.4 540.8L2240.9 542.5L2233.9 551.2L2226.9 556.5L2223.5 556.5L2224.3 549.5Z"/>
<path fill="#1b699a" stroke="none" d="M2235.7 531.2L2244.4 528.6L2251.4 532.0L2247.9 537.3L2240.9 542.5L2237.4 540.8L2234.8 535.5Z"/>
<path fill="#b95e2d" stroke="none" d="M2220.0 561.7L2226.9 557.3L2233.9 558.2L2234.8 566.9L2231.3 572.2L2224.3 573.0L2221.7 566.9ZM2235.7 512.9L2240.9 493.7L2244.4 486.7L2254.8 488.4L2257.5 505.9L2258.3 519.8L2251.4 523.3L2240.9 525.1L2235.7 521.6ZM2216.5 481.5L2221.7 476.2L2226.9 488.4L2232.2 500.7L2226.9 502.4L2221.7 495.4L2217.3 488.4Z"/>
<path fill="#ffffff" stroke="none" d="M2221.7 479.7L2231.3 478.0L2232.2 488.4L2226.9 491.1L2222.6 486.7Z"/>
<path fill="#b95e2d" stroke="none" d="M2164.2 593.1L2171.1 589.6L2178.1 582.6L2185.1 579.1L2190.3 586.1L2192.9 593.1L2192.1 601.8L2185.1 603.6L2178.1 607.0L2172.9 605.3L2167.6 600.1ZM2139.7 471.0L2160.7 471.0L2161.5 478.0L2153.7 480.6L2145.0 478.0Z"/>
<path fill="#75abc8" stroke="none" d="M2269.7 539.0L2274.9 532.0L2282.8 526.8L2288.0 521.6L2293.2 513.7L2295.8 518.1L2296.7 526.8L2294.1 532.0L2291.5 528.6L2286.2 528.6L2279.3 533.8L2275.8 540.8L2270.5 546.0ZM2277.5 544.3L2283.6 540.8L2284.5 549.5L2281.0 558.2L2276.7 554.7Z"/>
<path fill="#d39a77" d="M2531.6 615.0L2537.0 608.2L2538.3 594.6L2539.7 581.1L2538.3 571.6L2542.4 559.4L2554.6 553.9L2568.2 548.5L2576.3 541.7L2584.5 532.2L2591.2 525.5L2600.7 522.7L2606.2 525.5L2612.9 516.0L2622.4 511.9L2630.6 514.6L2637.4 514.6L2636.0 522.7L2641.4 529.5L2648.2 535.0L2652.3 539.0L2656.4 529.5L2659.1 518.7L2661.8 507.8L2665.9 518.7L2668.6 526.8L2674.0 537.7L2676.7 548.5L2683.5 556.7L2684.8 564.8L2690.3 574.3L2688.9 586.5L2683.5 597.4L2676.7 606.9L2668.6 616.3L2660.4 624.5L2649.6 629.9L2638.7 634.0L2629.2 632.6L2619.7 629.9L2618.4 621.8L2619.7 610.9L2615.7 616.3L2611.6 615.0L2607.5 608.2L2600.7 602.8L2589.9 601.4L2576.3 604.1L2562.8 610.9L2549.2 613.6L2541.1 616.3L2532.9 616.3ZM2625.2 646.2L2630.6 643.5L2637.4 644.8L2633.3 651.6L2626.5 655.7Z"/>
<path fill="#75abc8" d="M2659.9 472.6L2668.6 475.3L2679.4 482.0L2686.2 487.5L2684.8 491.5L2688.9 499.7L2695.7 506.5L2688.9 506.5L2680.8 501.0L2674.0 497.0L2667.2 499.7L2659.9 501.0ZM2688.9 483.4L2698.4 484.8L2705.2 479.3L2706.6 476.6L2701.1 473.9L2699.8 479.3L2693.0 482.0Z"/>
<path fill="#d39a77" d="M2489.5 441.3L2493.6 446.8L2500.4 456.3L2508.5 464.4L2516.6 469.8L2519.3 479.3L2516.6 486.1L2508.5 479.3L2500.4 469.8L2493.6 459.0L2489.5 450.8L2485.4 444.1Z"/>
<path fill="#75abc8" d="M2589.9 499.7L2600.7 496.4L2602.1 498.3L2592.6 502.4ZM2493.6 426.4L2500.4 430.5L2507.1 437.3L2511.2 448.1L2512.6 454.9L2507.1 449.5L2500.4 440.0L2494.9 433.2ZM2713.3 483.4L2717.4 487.5L2720.1 492.9L2717.4 492.1L2714.2 487.5ZM2722.8 492.9L2728.3 497.0L2733.7 502.4L2731.0 502.4L2724.2 497.0ZM2794.7 538.2L2798.8 537.1L2800.2 540.4L2796.1 541.7ZM2801.5 532.8L2806.4 531.7L2806.9 535.0L2802.9 535.5ZM2756.7 525.5L2759.5 528.2L2760.8 537.7L2758.6 536.3L2757.0 529.5Z"/>
<path fill="#ffffff" d="M2740.5 551.8L2743.2 551.2L2749.4 558.0L2747.3 559.9L2741.8 555.3Z"/>
<path fill="#75abc8" stroke="none" d="M2747.3 616.3L2751.3 619.1L2752.7 627.2L2760.8 629.9L2752.7 635.3L2744.5 640.8L2737.8 646.2L2735.0 643.5L2739.1 636.7L2745.9 631.3L2747.3 624.5Z"/>
<path fill="#d39a77" stroke="none" d="M2740.5 636.7L2747.3 634.0L2750.0 638.1L2743.2 642.1L2737.8 646.2L2735.0 643.5ZM2732.3 643.5L2735.0 646.2L2725.5 653.0L2714.7 659.8L2703.8 666.5L2693.0 670.6L2688.9 667.9L2695.7 661.1L2706.6 655.7L2717.4 651.6L2726.9 644.8Z"/>
<path fill="#75abc8" stroke="none" d="M2688.9 667.9L2695.7 661.1L2703.8 659.8L2698.4 666.5L2693.0 670.6ZM2706.6 659.8L2720.1 651.6L2729.6 647.6L2722.8 654.3L2712.0 661.1Z"/>
<path fill="#1b699a" stroke="none" d="M2637.4 473.9L2644.2 468.5L2652.3 466.6L2659.9 472.6L2659.9 501.0L2655.0 497.0L2649.6 492.9L2646.9 495.6L2645.5 488.8L2649.6 484.8L2642.8 479.3L2636.0 475.3L2630.6 472.6L2629.2 465.8L2622.4 463.1L2617.0 461.7L2619.7 459.0L2627.9 461.7L2634.7 465.8Z"/>
<path fill="#b95e2d" stroke="none" d="M2518.0 486.1L2530.2 488.8L2543.8 491.5L2554.6 495.6L2553.3 498.3L2541.1 496.4L2527.5 493.7L2518.0 489.4Z"/>
<path fill="#d39a77" stroke="none" d="M2557.3 497.0L2570.9 497.8L2584.5 498.3L2595.3 497.0L2594.0 500.2L2581.7 500.5L2568.2 500.2L2557.9 499.7Z"/>
<path fill="#b95e2d" stroke="none" d="M2512.6 475.3L2518.0 473.9L2519.9 483.4L2516.6 486.7L2511.2 482.0Z"/>
<path fill="#ffffff" d="M2531.4 452.2L2538.3 445.2L2552.3 438.2L2561.6 427.7L2570.9 435.9L2567.4 442.9L2570.9 454.5L2561.6 468.4L2559.3 475.4L2552.3 477.7L2543.0 475.9L2536.5 473.6L2531.4 461.5Z"/>
<path fill="#75abc8" stroke="none" d="M2531.4 452.2L2538.3 445.2L2552.3 438.2L2561.6 431.2L2554.6 442.9L2548.8 452.2L2543.0 461.5L2536.5 473.1L2531.4 461.5Z"/>
<path fill="#1b699a" stroke="none" d="M2556.9 438.2L2561.6 427.7L2570.9 435.9L2565.1 440.5Z"/>
<path fill="#b95e2d" stroke="none" d="M2540.7 465.0L2548.8 459.1L2555.8 458.7L2559.3 468.4L2555.8 475.4L2543.0 475.4ZM2575.0 461.7L2583.1 456.3L2595.3 452.2L2596.7 454.9L2587.2 459.0L2580.4 463.1L2583.1 468.5L2588.5 473.9L2585.8 479.3L2581.7 473.9L2577.7 479.3L2578.5 484.8L2574.2 484.8L2572.3 473.9L2573.6 465.8ZM2606.2 450.8L2610.2 448.1L2611.6 456.3L2608.9 463.1L2605.6 459.0ZM2600.7 472.6L2611.6 471.2L2617.0 473.9L2608.9 476.6L2602.1 475.3Z"/>
</g>
<g>
<rect x="790.7" y="845.1" width="300.4" height="35.6" fill="#1b699a"/>
<rect x="1091.1" y="845.1" width="300.4" height="35.6" fill="#75abc8"/>
<rect x="1391.9" y="845.4" width="299.8" height="35.6" fill="#fff" stroke="#bdbdbd" stroke-width="1.2"/>
<rect x="1691.9" y="845.1" width="300.4" height="35.6" fill="#d39a77"/>
<rect x="1992.3" y="845.1" width="300.4" height="35.6" fill="#b95e2d"/>
</g>
</svg>
<div class="tag">RUTAB.NET</div>
<div class="t h" id="tn" style="left:633.8px;top:27.3px;">National</div>
<div class="t h" id="ts" style="left:2028.9px;top:25.3px;">Subnational</div>
<div class="t b" id="tt" style="left:978.7px;top:771.9px;">Trend in income inequality over 1990−2023</div>
<div class="t g" id="l1" style="left:760.5px;top:887.6px;">Strong decrease</div>
<div class="t g" id="l2" style="left:1142.5px;top:887.6px;">Decrease</div>
<div class="t g" id="l3" style="left:1451.1px;top:887.6px;">No trend</div>
<div class="t g" id="l4" style="left:1757.7px;top:887.6px;">Increase</div>
<div class="t g" id="l5" style="left:2006.6px;top:887.6px;">Strong Increase</div>
<div class="t l" id="r1" style="right:2145px;top:962.3px;">National level data</div>
<div class="t l" id="r2" style="right:2145px;top:1023.1px;">Subnational level data</div>
<div class="t l" id="a1" style="left:902.5px;top:962.3px;">10%</div>
<div class="t l" id="a2" style="left:1208.4px;top:962.3px;">21%</div>
<div class="t l" id="a3" style="left:1495.5px;top:962.3px;">25%</div>
<div class="t l" id="a4" style="left:1804.6px;top:962.3px;">25%</div>
<div class="t l" id="a5" style="left:2136.7px;top:962.3px;">18%</div>
<div class="t l i" id="a6" style="left:2376.8px;top:962.3px;">of global population</div>
<div class="t l" id="b1" style="left:902.5px;top:1023.1px;">15%</div>
<div class="t l" id="b2" style="left:1208.4px;top:1023.1px;">21%</div>
<div class="t l" id="b3" style="left:1495.5px;top:1023.1px;">18%</div>
<div class="t l" id="b4" style="left:1804.6px;top:1023.1px;">23%</div>
<div class="t l" id="b5" style="left:2136.7px;top:1023.1px;">23%</div>
<div class="t l i" id="b6" style="left:2376.8px;top:1023.1px;">of global population</div>
</body></html>
